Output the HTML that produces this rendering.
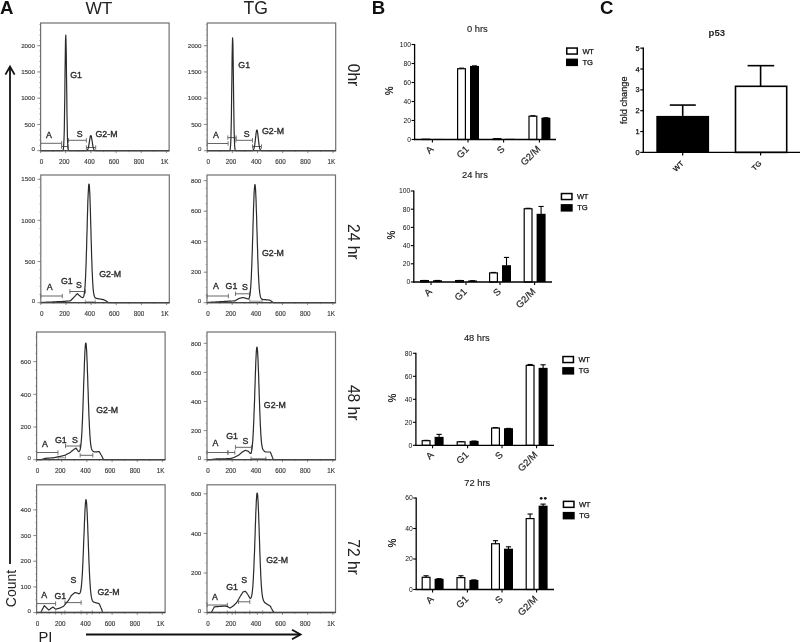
<!DOCTYPE html>
<html><head><meta charset="utf-8"><title>Figure</title>
<style>html,body{margin:0;padding:0;background:#fff;width:800px;height:642px;overflow:hidden}
body{position:relative;font-family:"Liberation Sans", sans-serif}
svg text{font-family:"Liberation Sans", sans-serif}</style></head>
<body>
<svg width="800" height="642" viewBox="0 0 800 642" style="position:absolute;left:0;top:0;will-change:transform" font-family='"Liberation Sans", sans-serif'>
<rect width="800" height="642" fill="#fff"/>
<text x="0.00" y="13.90" font-size="18.6" text-anchor="start" font-weight="bold" fill="#111" >A</text>
<text x="85.60" y="14.00" font-size="17.4" text-anchor="start" font-weight="normal" fill="#222" letter-spacing="-0.3">WT</text>
<text x="243.40" y="14.40" font-size="17.6" text-anchor="start" font-weight="normal" fill="#222" >TG</text>
<text x="371.70" y="13.70" font-size="18.6" text-anchor="start" font-weight="bold" fill="#111" >B</text>
<text x="599.90" y="13.90" font-size="18.6" text-anchor="start" font-weight="bold" fill="#111" >C</text>
<text x="348" y="75.0" font-size="15.6" text-anchor="middle" fill="#222" transform="rotate(90 348 75.0)" dy="0">0hr</text>
<text x="348" y="241.8" font-size="15.6" text-anchor="middle" fill="#222" transform="rotate(90 348 241.8)" dy="0">24 hr</text>
<text x="348" y="402.7" font-size="15.6" text-anchor="middle" fill="#222" transform="rotate(90 348 402.7)" dy="0">48 hr</text>
<text x="348" y="557.0" font-size="15.6" text-anchor="middle" fill="#222" transform="rotate(90 348 557.0)" dy="0">72 hr</text>
<path d="M10,564 L10,67" stroke="#111" stroke-width="1.8" fill="none"/>
<path d="M5.4,74.6 L10,66.5 L14.6,74.6" stroke="#111" stroke-width="1.8" fill="none" stroke-linejoin="miter"/>
<text x="15.6" y="588.5" font-size="14" text-anchor="middle" fill="#222" transform="rotate(-90 15.6 588.5)">Count</text>
<text x="38.50" y="642.20" font-size="14.8" text-anchor="start" font-weight="normal" fill="#222" >PI</text>
<path d="M86,634.5 L300,634.5" stroke="#111" stroke-width="1.8" fill="none"/>
<path d="M292,629.7 L300.6,634.5 L292,639.2" stroke="#111" stroke-width="1.8" fill="none"/>
<line x1="40.60" y1="150.70" x2="40.60" y2="153.10" stroke="#777" stroke-width="0.8" />
<text x="41.60" y="164.10" font-size="6.3" text-anchor="middle" font-weight="normal" fill="#3a3a3a" stroke="#3a3a3a" stroke-width="0.15">0</text>
<line x1="65.76" y1="150.70" x2="65.76" y2="153.10" stroke="#777" stroke-width="0.8" />
<text x="64.30" y="164.10" font-size="6.3" text-anchor="middle" font-weight="normal" fill="#3a3a3a" stroke="#3a3a3a" stroke-width="0.15">200</text>
<line x1="90.92" y1="150.70" x2="90.92" y2="153.10" stroke="#777" stroke-width="0.8" />
<text x="89.60" y="164.10" font-size="6.3" text-anchor="middle" font-weight="normal" fill="#3a3a3a" stroke="#3a3a3a" stroke-width="0.15">400</text>
<line x1="116.08" y1="150.70" x2="116.08" y2="153.10" stroke="#777" stroke-width="0.8" />
<text x="114.00" y="164.10" font-size="6.3" text-anchor="middle" font-weight="normal" fill="#3a3a3a" stroke="#3a3a3a" stroke-width="0.15">600</text>
<line x1="141.24" y1="150.70" x2="141.24" y2="153.10" stroke="#777" stroke-width="0.8" />
<text x="138.90" y="164.10" font-size="6.3" text-anchor="middle" font-weight="normal" fill="#3a3a3a" stroke="#3a3a3a" stroke-width="0.15">800</text>
<line x1="166.40" y1="150.70" x2="166.40" y2="153.10" stroke="#777" stroke-width="0.8" />
<text x="164.70" y="164.10" font-size="6.3" text-anchor="middle" font-weight="normal" fill="#3a3a3a" stroke="#3a3a3a" stroke-width="0.15">1K</text>
<line x1="53.18" y1="150.70" x2="53.18" y2="152.20" stroke="#999" stroke-width="0.7" />
<line x1="78.34" y1="150.70" x2="78.34" y2="152.20" stroke="#999" stroke-width="0.7" />
<line x1="103.50" y1="150.70" x2="103.50" y2="152.20" stroke="#999" stroke-width="0.7" />
<line x1="128.66" y1="150.70" x2="128.66" y2="152.20" stroke="#999" stroke-width="0.7" />
<line x1="153.82" y1="150.70" x2="153.82" y2="152.20" stroke="#999" stroke-width="0.7" />
<line x1="39.00" y1="150.70" x2="40.60" y2="150.70" stroke="#aaa" stroke-width="0.7" />
<line x1="39.00" y1="145.45" x2="40.60" y2="145.45" stroke="#aaa" stroke-width="0.7" />
<line x1="39.00" y1="140.20" x2="40.60" y2="140.20" stroke="#aaa" stroke-width="0.7" />
<line x1="39.00" y1="134.95" x2="40.60" y2="134.95" stroke="#aaa" stroke-width="0.7" />
<line x1="39.00" y1="129.70" x2="40.60" y2="129.70" stroke="#aaa" stroke-width="0.7" />
<line x1="39.00" y1="124.45" x2="40.60" y2="124.45" stroke="#aaa" stroke-width="0.7" />
<line x1="39.00" y1="119.20" x2="40.60" y2="119.20" stroke="#aaa" stroke-width="0.7" />
<line x1="39.00" y1="113.95" x2="40.60" y2="113.95" stroke="#aaa" stroke-width="0.7" />
<line x1="39.00" y1="108.70" x2="40.60" y2="108.70" stroke="#aaa" stroke-width="0.7" />
<line x1="39.00" y1="103.45" x2="40.60" y2="103.45" stroke="#aaa" stroke-width="0.7" />
<line x1="39.00" y1="98.20" x2="40.60" y2="98.20" stroke="#aaa" stroke-width="0.7" />
<line x1="39.00" y1="92.95" x2="40.60" y2="92.95" stroke="#aaa" stroke-width="0.7" />
<line x1="39.00" y1="87.70" x2="40.60" y2="87.70" stroke="#aaa" stroke-width="0.7" />
<line x1="39.00" y1="82.45" x2="40.60" y2="82.45" stroke="#aaa" stroke-width="0.7" />
<line x1="39.00" y1="77.20" x2="40.60" y2="77.20" stroke="#aaa" stroke-width="0.7" />
<line x1="39.00" y1="71.95" x2="40.60" y2="71.95" stroke="#aaa" stroke-width="0.7" />
<line x1="39.00" y1="66.70" x2="40.60" y2="66.70" stroke="#aaa" stroke-width="0.7" />
<line x1="39.00" y1="61.45" x2="40.60" y2="61.45" stroke="#aaa" stroke-width="0.7" />
<line x1="39.00" y1="56.20" x2="40.60" y2="56.20" stroke="#aaa" stroke-width="0.7" />
<line x1="39.00" y1="50.95" x2="40.60" y2="50.95" stroke="#aaa" stroke-width="0.7" />
<line x1="39.00" y1="45.70" x2="40.60" y2="45.70" stroke="#aaa" stroke-width="0.7" />
<line x1="39.00" y1="40.45" x2="40.60" y2="40.45" stroke="#aaa" stroke-width="0.7" />
<line x1="39.00" y1="35.20" x2="40.60" y2="35.20" stroke="#aaa" stroke-width="0.7" />
<line x1="39.00" y1="29.95" x2="40.60" y2="29.95" stroke="#aaa" stroke-width="0.7" />
<line x1="39.00" y1="24.70" x2="40.60" y2="24.70" stroke="#aaa" stroke-width="0.7" />
<line x1="37.20" y1="150.70" x2="40.60" y2="150.70" stroke="#777" stroke-width="0.8" />
<text x="34.90" y="151.00" font-size="6.2" text-anchor="end" font-weight="normal" fill="#3a3a3a" stroke="#3a3a3a" stroke-width="0.15">0</text>
<line x1="37.20" y1="124.45" x2="40.60" y2="124.45" stroke="#777" stroke-width="0.8" />
<text x="34.90" y="126.65" font-size="6.2" text-anchor="end" font-weight="normal" fill="#3a3a3a" stroke="#3a3a3a" stroke-width="0.15">500</text>
<line x1="37.20" y1="98.20" x2="40.60" y2="98.20" stroke="#777" stroke-width="0.8" />
<text x="34.90" y="100.40" font-size="6.2" text-anchor="end" font-weight="normal" fill="#3a3a3a" stroke="#3a3a3a" stroke-width="0.15">1000</text>
<line x1="37.20" y1="71.95" x2="40.60" y2="71.95" stroke="#777" stroke-width="0.8" />
<text x="34.90" y="74.15" font-size="6.2" text-anchor="end" font-weight="normal" fill="#3a3a3a" stroke="#3a3a3a" stroke-width="0.15">1500</text>
<line x1="37.20" y1="45.70" x2="40.60" y2="45.70" stroke="#777" stroke-width="0.8" />
<text x="34.90" y="47.90" font-size="6.2" text-anchor="end" font-weight="normal" fill="#3a3a3a" stroke="#3a3a3a" stroke-width="0.15">2000</text>
<line x1="40.60" y1="143.30" x2="61.61" y2="143.30" stroke="#666" stroke-width="1.0" />
<line x1="40.60" y1="141.10" x2="40.60" y2="145.50" stroke="#666" stroke-width="0.9" />
<line x1="61.61" y1="141.10" x2="61.61" y2="145.50" stroke="#666" stroke-width="0.9" />
<line x1="61.61" y1="146.50" x2="68.02" y2="146.50" stroke="#666" stroke-width="1.0" />
<line x1="61.61" y1="144.30" x2="61.61" y2="148.70" stroke="#666" stroke-width="0.9" />
<line x1="68.02" y1="144.30" x2="68.02" y2="148.70" stroke="#666" stroke-width="0.9" />
<line x1="68.53" y1="140.30" x2="86.39" y2="140.30" stroke="#666" stroke-width="1.0" />
<line x1="68.53" y1="138.10" x2="68.53" y2="142.50" stroke="#666" stroke-width="0.9" />
<line x1="86.39" y1="138.10" x2="86.39" y2="142.50" stroke="#666" stroke-width="0.9" />
<line x1="86.39" y1="147.50" x2="95.70" y2="147.50" stroke="#666" stroke-width="1.0" />
<line x1="86.39" y1="145.30" x2="86.39" y2="149.70" stroke="#666" stroke-width="0.9" />
<line x1="95.70" y1="145.30" x2="95.70" y2="149.70" stroke="#666" stroke-width="0.9" />
<path d="M40.6,150.7L40.9,150.7L41.1,150.7L41.4,150.7L41.6,150.7L41.9,150.7L42.1,150.7L42.4,150.7L42.6,150.7L42.9,150.7L43.1,150.7L43.4,150.7L43.6,150.7L43.9,150.7L44.1,150.7L44.4,150.7L44.6,150.7L44.9,150.7L45.1,150.7L45.4,150.7L45.6,150.7L45.9,150.7L46.1,150.7L46.4,150.7L46.6,150.7L46.9,150.7L47.1,150.7L47.4,150.7L47.6,150.7L47.9,150.7L48.1,150.7L48.4,150.7L48.7,150.7L48.9,150.7L49.2,150.7L49.4,150.7L49.7,150.7L49.9,150.7L50.2,150.7L50.4,150.7L50.7,150.7L50.9,150.7L51.2,150.7L51.4,150.7L51.7,150.7L51.9,150.7L52.2,150.7L52.4,150.7L52.7,150.7L52.9,150.7L53.2,150.7L53.4,150.7L53.7,150.7L53.9,150.7L54.2,150.7L54.4,150.7L54.7,150.7L54.9,150.7L55.2,150.7L55.4,150.7L55.7,150.7L55.9,150.7L56.2,150.7L56.5,150.7L56.7,150.7L57.0,150.7L57.2,150.7L57.5,150.7L57.7,150.7L58.0,150.7L58.2,150.7L58.5,150.7L58.7,150.7L59.0,150.7L59.2,150.7L59.5,150.7L59.7,150.7L60.0,150.7L60.2,150.7L60.5,150.7L60.7,150.7L61.0,150.7L61.2,150.7L61.5,150.7L61.7,150.7L62.0,150.7L62.2,150.7L62.5,150.7L62.7,150.6L63.0,150.3L63.2,149.7L63.5,148.2L63.7,145.1L64.0,139.3L64.3,129.7L64.5,115.3L64.8,96.5L65.0,75.3L65.3,55.1L65.5,40.5L65.8,35.2L66.0,40.5L66.3,55.1L66.5,75.3L66.8,96.5L67.0,115.3L67.3,129.7L67.5,139.3L67.8,145.1L68.0,148.2L68.3,149.7L68.5,150.3L68.8,150.6L69.0,150.7L69.3,150.7L69.5,150.7L69.8,150.7L70.0,150.7L70.3,150.7L70.5,150.7L70.8,150.7L71.0,150.7L71.3,150.7L71.5,150.7L71.8,150.7L72.0,150.7L72.3,150.7L72.6,150.7L72.8,150.7L73.1,150.7L73.3,150.7L73.6,150.7L73.8,150.7L74.1,150.7L74.3,150.7L74.6,150.7L74.8,150.7L75.1,150.7L75.3,150.7L75.6,150.7L75.8,150.7L76.1,150.7L76.3,150.7L76.6,150.7L76.8,150.7L77.1,150.7L77.3,150.7L77.6,150.7L77.8,150.7L78.1,150.7L78.3,150.7L78.6,150.7L78.8,150.7L79.1,150.7L79.3,150.7L79.6,150.7L79.8,150.7L80.1,150.7L80.4,150.7L80.6,150.7L80.9,150.7L81.1,150.7L81.4,150.7L81.6,150.7L81.9,150.7L82.1,150.7L82.4,150.7L82.6,150.7L82.9,150.7L83.1,150.7L83.4,150.7L83.6,150.7L83.9,150.7L84.1,150.7L84.4,150.7L84.6,150.7L84.9,150.7L85.1,150.7L85.4,150.7L85.6,150.7L85.9,150.7L86.1,150.6L86.4,150.6L86.6,150.5L86.9,150.4L87.1,150.2L87.4,150.0L87.6,149.5L87.9,149.0L88.2,148.2L88.4,147.3L88.7,146.1L88.9,144.7L89.2,143.1L89.4,141.5L89.7,139.8L89.9,138.3L90.2,137.0L90.4,136.0L90.7,135.5L90.9,135.5L91.2,136.0L91.4,137.0L91.7,138.3L91.9,139.8L92.2,141.5L92.4,143.1L92.7,144.7L92.9,146.1L93.2,147.3L93.4,148.2L93.7,149.0L93.9,149.5L94.2,150.0L94.4,150.2L94.7,150.4L94.9,150.5L95.2,150.6L95.4,150.6L95.7,150.7L96.0,150.7L96.2,150.7L96.5,150.7L96.7,150.7L97.0,150.7L97.2,150.7L97.5,150.7L97.7,150.7L98.0,150.7L98.2,150.7L98.5,150.7L98.7,150.7L99.0,150.7L99.2,150.7L99.5,150.7L99.7,150.7L100.0,150.7L100.2,150.7L100.5,150.7L100.7,150.7L101.0,150.7L101.2,150.7L101.5,150.7L101.7,150.7L102.0,150.7L102.2,150.7L102.5,150.7L102.7,150.7L103.0,150.7L103.2,150.7L103.5,150.7L103.8,150.7L104.0,150.7L104.3,150.7L104.5,150.7L104.8,150.7L105.0,150.7L105.3,150.7L105.5,150.7L105.8,150.7L106.0,150.7L106.3,150.7L106.5,150.7L106.8,150.7L107.0,150.7L107.3,150.7L107.5,150.7L107.8,150.7L108.0,150.7L108.3,150.7L108.5,150.7L108.8,150.7L109.0,150.7L109.3,150.7L109.5,150.7L109.8,150.7L110.0,150.7L110.3,150.7L110.5,150.7L110.8,150.7L111.0,150.7L111.3,150.7L111.6,150.7L111.8,150.7L112.1,150.7L112.3,150.7L112.6,150.7L112.8,150.7L113.1,150.7L113.3,150.7L113.6,150.7L113.8,150.7L114.1,150.7L114.3,150.7L114.6,150.7L114.8,150.7L115.1,150.7L115.3,150.7L115.6,150.7L115.8,150.7L116.1,150.7L116.3,150.7L116.6,150.7L116.8,150.7L117.1,150.7L117.3,150.7L117.6,150.7L117.8,150.7L118.1,150.7L118.3,150.7L118.6,150.7L118.8,150.7L119.1,150.7L119.4,150.7L119.6,150.7L119.9,150.7L120.1,150.7L120.4,150.7L120.6,150.7L120.9,150.7L121.1,150.7L121.4,150.7L121.6,150.7L121.9,150.7L122.1,150.7L122.4,150.7L122.6,150.7L122.9,150.7L123.1,150.7L123.4,150.7L123.6,150.7L123.9,150.7L124.1,150.7L124.4,150.7L124.6,150.7L124.9,150.7L125.1,150.7L125.4,150.7L125.6,150.7L125.9,150.7L126.1,150.7L126.4,150.7L126.6,150.7L126.9,150.7L127.2,150.7L127.4,150.7L127.7,150.7L127.9,150.7L128.2,150.7L128.4,150.7L128.7,150.7L128.9,150.7L129.2,150.7L129.4,150.7L129.7,150.7L129.9,150.7L130.2,150.7L130.4,150.7L130.7,150.7L130.9,150.7L131.2,150.7L131.4,150.7L131.7,150.7L131.9,150.7L132.2,150.7L132.4,150.7L132.7,150.7L132.9,150.7L133.2,150.7L133.4,150.7L133.7,150.7L133.9,150.7L134.2,150.7L134.4,150.7L134.7,150.7L134.9,150.7L135.2,150.7L135.5,150.7L135.7,150.7L136.0,150.7L136.2,150.7L136.5,150.7L136.7,150.7L137.0,150.7L137.2,150.7L137.5,150.7L137.7,150.7L138.0,150.7L138.2,150.7L138.5,150.7L138.7,150.7L139.0,150.7L139.2,150.7L139.5,150.7L139.7,150.7L140.0,150.7L140.2,150.7L140.5,150.7L140.7,150.7L141.0,150.7L141.2,150.7L141.5,150.7L141.7,150.7L142.0,150.7L142.2,150.7L142.5,150.7L142.7,150.7L143.0,150.7L143.3,150.7L143.5,150.7L143.8,150.7L144.0,150.7L144.3,150.7L144.5,150.7L144.8,150.7L145.0,150.7L145.3,150.7L145.5,150.7L145.8,150.7L146.0,150.7L146.3,150.7L146.5,150.7L146.8,150.7L147.0,150.7L147.3,150.7L147.5,150.7L147.8,150.7L148.0,150.7L148.3,150.7L148.5,150.7L148.8,150.7L149.0,150.7L149.3,150.7L149.5,150.7L149.8,150.7L150.0,150.7L150.3,150.7L150.5,150.7L150.8,150.7L151.1,150.7L151.3,150.7L151.6,150.7L151.8,150.7L152.1,150.7L152.3,150.7L152.6,150.7L152.8,150.7L153.1,150.7L153.3,150.7L153.6,150.7L153.8,150.7L154.1,150.7L154.3,150.7L154.6,150.7L154.8,150.7L155.1,150.7L155.3,150.7L155.6,150.7L155.8,150.7L156.1,150.7L156.3,150.7L156.6,150.7L156.8,150.7L157.1,150.7L157.3,150.7L157.6,150.7L157.8,150.7L158.1,150.7L158.3,150.7L158.6,150.7L158.9,150.7L159.1,150.7L159.4,150.7L159.6,150.7L159.9,150.7L160.1,150.7L160.4,150.7L160.6,150.7L160.9,150.7L161.1,150.7L161.4,150.7L161.6,150.7L161.9,150.7L162.1,150.7L162.4,150.7L162.6,150.7L162.9,150.7L163.1,150.7L163.4,150.7L163.6,150.7L163.9,150.7L164.1,150.7L164.4,150.7L164.6,150.7L164.9,150.7L165.1,150.7L165.4,150.7L165.6,150.7L165.9,150.7L166.1,150.7L166.4,150.7L166.7,150.7L166.9,150.7L167.2,150.7L167.4,150.7L167.7,150.7L167.9,150.7L168.2,150.7L168.4,150.7L168.7,150.7L168.9,150.7L169.2,150.7L169.4,150.7" fill="none" stroke="#2a2a2a" stroke-width="1.2" stroke-linejoin="round"/>
<rect x="40.60" y="23.00" width="128.5" height="127.7" fill="none" stroke="#707070" stroke-width="1.2"/>
<line x1="40.60" y1="150.70" x2="169.10" y2="150.70" stroke="#444" stroke-width="1.3" />
<text x="46.00" y="137.60" font-size="8.8" text-anchor="start" font-weight="normal" fill="#2a2a2a" stroke="#2a2a2a" stroke-width="0.35">A</text>
<text x="70.20" y="78.10" font-size="8.8" text-anchor="start" font-weight="normal" fill="#2a2a2a" stroke="#2a2a2a" stroke-width="0.35">G1</text>
<text x="76.80" y="136.90" font-size="8.8" text-anchor="start" font-weight="normal" fill="#2a2a2a" stroke="#2a2a2a" stroke-width="0.35">S</text>
<text x="95.50" y="137.40" font-size="8.8" text-anchor="start" font-weight="normal" fill="#2a2a2a" stroke="#2a2a2a" stroke-width="0.35">G2-M</text>
<line x1="207.20" y1="150.70" x2="207.20" y2="153.10" stroke="#777" stroke-width="0.8" />
<text x="208.20" y="164.10" font-size="6.3" text-anchor="middle" font-weight="normal" fill="#3a3a3a" stroke="#3a3a3a" stroke-width="0.15">0</text>
<line x1="232.36" y1="150.70" x2="232.36" y2="153.10" stroke="#777" stroke-width="0.8" />
<text x="230.90" y="164.10" font-size="6.3" text-anchor="middle" font-weight="normal" fill="#3a3a3a" stroke="#3a3a3a" stroke-width="0.15">200</text>
<line x1="257.52" y1="150.70" x2="257.52" y2="153.10" stroke="#777" stroke-width="0.8" />
<text x="256.20" y="164.10" font-size="6.3" text-anchor="middle" font-weight="normal" fill="#3a3a3a" stroke="#3a3a3a" stroke-width="0.15">400</text>
<line x1="282.68" y1="150.70" x2="282.68" y2="153.10" stroke="#777" stroke-width="0.8" />
<text x="280.60" y="164.10" font-size="6.3" text-anchor="middle" font-weight="normal" fill="#3a3a3a" stroke="#3a3a3a" stroke-width="0.15">600</text>
<line x1="307.84" y1="150.70" x2="307.84" y2="153.10" stroke="#777" stroke-width="0.8" />
<text x="305.50" y="164.10" font-size="6.3" text-anchor="middle" font-weight="normal" fill="#3a3a3a" stroke="#3a3a3a" stroke-width="0.15">800</text>
<line x1="333.00" y1="150.70" x2="333.00" y2="153.10" stroke="#777" stroke-width="0.8" />
<text x="331.30" y="164.10" font-size="6.3" text-anchor="middle" font-weight="normal" fill="#3a3a3a" stroke="#3a3a3a" stroke-width="0.15">1K</text>
<line x1="219.78" y1="150.70" x2="219.78" y2="152.20" stroke="#999" stroke-width="0.7" />
<line x1="244.94" y1="150.70" x2="244.94" y2="152.20" stroke="#999" stroke-width="0.7" />
<line x1="270.10" y1="150.70" x2="270.10" y2="152.20" stroke="#999" stroke-width="0.7" />
<line x1="295.26" y1="150.70" x2="295.26" y2="152.20" stroke="#999" stroke-width="0.7" />
<line x1="320.42" y1="150.70" x2="320.42" y2="152.20" stroke="#999" stroke-width="0.7" />
<line x1="205.60" y1="150.70" x2="207.20" y2="150.70" stroke="#aaa" stroke-width="0.7" />
<line x1="205.60" y1="145.45" x2="207.20" y2="145.45" stroke="#aaa" stroke-width="0.7" />
<line x1="205.60" y1="140.20" x2="207.20" y2="140.20" stroke="#aaa" stroke-width="0.7" />
<line x1="205.60" y1="134.95" x2="207.20" y2="134.95" stroke="#aaa" stroke-width="0.7" />
<line x1="205.60" y1="129.70" x2="207.20" y2="129.70" stroke="#aaa" stroke-width="0.7" />
<line x1="205.60" y1="124.45" x2="207.20" y2="124.45" stroke="#aaa" stroke-width="0.7" />
<line x1="205.60" y1="119.20" x2="207.20" y2="119.20" stroke="#aaa" stroke-width="0.7" />
<line x1="205.60" y1="113.95" x2="207.20" y2="113.95" stroke="#aaa" stroke-width="0.7" />
<line x1="205.60" y1="108.70" x2="207.20" y2="108.70" stroke="#aaa" stroke-width="0.7" />
<line x1="205.60" y1="103.45" x2="207.20" y2="103.45" stroke="#aaa" stroke-width="0.7" />
<line x1="205.60" y1="98.20" x2="207.20" y2="98.20" stroke="#aaa" stroke-width="0.7" />
<line x1="205.60" y1="92.95" x2="207.20" y2="92.95" stroke="#aaa" stroke-width="0.7" />
<line x1="205.60" y1="87.70" x2="207.20" y2="87.70" stroke="#aaa" stroke-width="0.7" />
<line x1="205.60" y1="82.45" x2="207.20" y2="82.45" stroke="#aaa" stroke-width="0.7" />
<line x1="205.60" y1="77.20" x2="207.20" y2="77.20" stroke="#aaa" stroke-width="0.7" />
<line x1="205.60" y1="71.95" x2="207.20" y2="71.95" stroke="#aaa" stroke-width="0.7" />
<line x1="205.60" y1="66.70" x2="207.20" y2="66.70" stroke="#aaa" stroke-width="0.7" />
<line x1="205.60" y1="61.45" x2="207.20" y2="61.45" stroke="#aaa" stroke-width="0.7" />
<line x1="205.60" y1="56.20" x2="207.20" y2="56.20" stroke="#aaa" stroke-width="0.7" />
<line x1="205.60" y1="50.95" x2="207.20" y2="50.95" stroke="#aaa" stroke-width="0.7" />
<line x1="205.60" y1="45.70" x2="207.20" y2="45.70" stroke="#aaa" stroke-width="0.7" />
<line x1="205.60" y1="40.45" x2="207.20" y2="40.45" stroke="#aaa" stroke-width="0.7" />
<line x1="205.60" y1="35.20" x2="207.20" y2="35.20" stroke="#aaa" stroke-width="0.7" />
<line x1="205.60" y1="29.95" x2="207.20" y2="29.95" stroke="#aaa" stroke-width="0.7" />
<line x1="205.60" y1="24.70" x2="207.20" y2="24.70" stroke="#aaa" stroke-width="0.7" />
<line x1="203.80" y1="150.70" x2="207.20" y2="150.70" stroke="#777" stroke-width="0.8" />
<text x="201.50" y="151.00" font-size="6.2" text-anchor="end" font-weight="normal" fill="#3a3a3a" stroke="#3a3a3a" stroke-width="0.15">0</text>
<line x1="203.80" y1="124.45" x2="207.20" y2="124.45" stroke="#777" stroke-width="0.8" />
<text x="201.50" y="126.65" font-size="6.2" text-anchor="end" font-weight="normal" fill="#3a3a3a" stroke="#3a3a3a" stroke-width="0.15">500</text>
<line x1="203.80" y1="98.20" x2="207.20" y2="98.20" stroke="#777" stroke-width="0.8" />
<text x="201.50" y="100.40" font-size="6.2" text-anchor="end" font-weight="normal" fill="#3a3a3a" stroke="#3a3a3a" stroke-width="0.15">1000</text>
<line x1="203.80" y1="71.95" x2="207.20" y2="71.95" stroke="#777" stroke-width="0.8" />
<text x="201.50" y="74.15" font-size="6.2" text-anchor="end" font-weight="normal" fill="#3a3a3a" stroke="#3a3a3a" stroke-width="0.15">1500</text>
<line x1="203.80" y1="45.70" x2="207.20" y2="45.70" stroke="#777" stroke-width="0.8" />
<text x="201.50" y="47.90" font-size="6.2" text-anchor="end" font-weight="normal" fill="#3a3a3a" stroke="#3a3a3a" stroke-width="0.15">2000</text>
<line x1="207.20" y1="143.50" x2="228.08" y2="143.50" stroke="#666" stroke-width="1.0" />
<line x1="207.20" y1="141.30" x2="207.20" y2="145.70" stroke="#666" stroke-width="0.9" />
<line x1="228.08" y1="141.30" x2="228.08" y2="145.70" stroke="#666" stroke-width="0.9" />
<line x1="227.83" y1="137.60" x2="236.13" y2="137.60" stroke="#666" stroke-width="1.0" />
<line x1="227.83" y1="135.40" x2="227.83" y2="139.80" stroke="#666" stroke-width="0.9" />
<line x1="236.13" y1="135.40" x2="236.13" y2="139.80" stroke="#666" stroke-width="0.9" />
<line x1="235.88" y1="140.30" x2="252.49" y2="140.30" stroke="#666" stroke-width="1.0" />
<line x1="235.88" y1="138.10" x2="235.88" y2="142.50" stroke="#666" stroke-width="0.9" />
<line x1="252.49" y1="138.10" x2="252.49" y2="142.50" stroke="#666" stroke-width="0.9" />
<line x1="252.49" y1="146.50" x2="261.55" y2="146.50" stroke="#666" stroke-width="1.0" />
<line x1="252.49" y1="144.30" x2="252.49" y2="148.70" stroke="#666" stroke-width="0.9" />
<line x1="261.55" y1="144.30" x2="261.55" y2="148.70" stroke="#666" stroke-width="0.9" />
<path d="M207.2,150.7L207.5,150.7L207.7,150.7L208.0,150.7L208.2,150.7L208.5,150.7L208.7,150.7L209.0,150.7L209.2,150.7L209.5,150.7L209.7,150.7L210.0,150.7L210.2,150.7L210.5,150.7L210.7,150.7L211.0,150.7L211.2,150.7L211.5,150.7L211.7,150.7L212.0,150.7L212.2,150.7L212.5,150.7L212.7,150.7L213.0,150.7L213.2,150.7L213.5,150.7L213.7,150.7L214.0,150.7L214.2,150.7L214.5,150.7L214.7,150.7L215.0,150.7L215.3,150.7L215.5,150.7L215.8,150.7L216.0,150.7L216.3,150.7L216.5,150.7L216.8,150.7L217.0,150.7L217.3,150.7L217.5,150.7L217.8,150.7L218.0,150.7L218.3,150.7L218.5,150.7L218.8,150.7L219.0,150.7L219.3,150.7L219.5,150.7L219.8,150.7L220.0,150.7L220.3,150.7L220.5,150.7L220.8,150.7L221.0,150.7L221.3,150.7L221.5,150.7L221.8,150.7L222.0,150.7L222.3,150.7L222.5,150.7L222.8,150.7L223.1,150.7L223.3,150.7L223.6,150.7L223.8,150.7L224.1,150.7L224.3,150.7L224.6,150.7L224.8,150.7L225.1,150.7L225.3,150.7L225.6,150.7L225.8,150.7L226.1,150.7L226.3,150.7L226.6,150.7L226.8,150.7L227.1,150.7L227.3,150.7L227.6,150.7L227.8,150.7L228.1,150.7L228.3,150.7L228.6,150.7L228.8,150.7L229.1,150.7L229.3,150.7L229.6,150.6L229.8,150.3L230.1,149.7L230.3,148.3L230.6,145.2L230.9,139.6L231.1,130.2L231.4,116.1L231.6,97.8L231.9,77.0L232.1,57.3L232.4,43.0L232.6,37.8L232.9,43.0L233.1,57.3L233.4,77.0L233.6,97.8L233.9,116.1L234.1,130.2L234.4,139.6L234.6,145.2L234.9,148.3L235.1,149.7L235.4,150.3L235.6,150.6L235.9,150.7L236.1,150.7L236.4,150.7L236.6,150.7L236.9,150.7L237.1,150.7L237.4,150.7L237.6,150.7L237.9,150.7L238.1,150.7L238.4,150.7L238.6,150.7L238.9,150.7L239.2,150.7L239.4,150.7L239.7,150.7L239.9,150.7L240.2,150.7L240.4,150.7L240.7,150.7L240.9,150.7L241.2,150.7L241.4,150.7L241.7,150.7L241.9,150.7L242.2,150.7L242.4,150.7L242.7,150.7L242.9,150.7L243.2,150.7L243.4,150.7L243.7,150.7L243.9,150.7L244.2,150.7L244.4,150.7L244.7,150.7L244.9,150.7L245.2,150.7L245.4,150.7L245.7,150.7L245.9,150.7L246.2,150.7L246.4,150.7L246.7,150.7L247.0,150.7L247.2,150.7L247.5,150.7L247.7,150.7L248.0,150.7L248.2,150.7L248.5,150.7L248.7,150.7L249.0,150.7L249.2,150.7L249.5,150.7L249.7,150.7L250.0,150.7L250.2,150.7L250.5,150.7L250.7,150.7L251.0,150.7L251.2,150.7L251.5,150.7L251.7,150.7L252.0,150.7L252.2,150.6L252.5,150.6L252.7,150.5L253.0,150.3L253.2,150.1L253.5,149.7L253.7,149.1L254.0,148.4L254.2,147.3L254.5,146.0L254.8,144.4L255.0,142.5L255.3,140.4L255.5,138.1L255.8,135.9L256.0,133.8L256.3,132.0L256.5,130.7L256.8,130.0L257.0,130.0L257.3,130.7L257.5,132.0L257.8,133.8L258.0,135.9L258.3,138.1L258.5,140.4L258.8,142.5L259.0,144.4L259.3,146.0L259.5,147.3L259.8,148.4L260.0,149.1L260.3,149.7L260.5,150.1L260.8,150.3L261.0,150.5L261.3,150.6L261.5,150.6L261.8,150.7L262.0,150.7L262.3,150.7L262.6,150.7L262.8,150.7L263.1,150.7L263.3,150.7L263.6,150.7L263.8,150.7L264.1,150.7L264.3,150.7L264.6,150.7L264.8,150.7L265.1,150.7L265.3,150.7L265.6,150.7L265.8,150.7L266.1,150.7L266.3,150.7L266.6,150.7L266.8,150.7L267.1,150.7L267.3,150.7L267.6,150.7L267.8,150.7L268.1,150.7L268.3,150.7L268.6,150.7L268.8,150.7L269.1,150.7L269.3,150.7L269.6,150.7L269.8,150.7L270.1,150.7L270.4,150.7L270.6,150.7L270.9,150.7L271.1,150.7L271.4,150.7L271.6,150.7L271.9,150.7L272.1,150.7L272.4,150.7L272.6,150.7L272.9,150.7L273.1,150.7L273.4,150.7L273.6,150.7L273.9,150.7L274.1,150.7L274.4,150.7L274.6,150.7L274.9,150.7L275.1,150.7L275.4,150.7L275.6,150.7L275.9,150.7L276.1,150.7L276.4,150.7L276.6,150.7L276.9,150.7L277.1,150.7L277.4,150.7L277.6,150.7L277.9,150.7L278.2,150.7L278.4,150.7L278.7,150.7L278.9,150.7L279.2,150.7L279.4,150.7L279.7,150.7L279.9,150.7L280.2,150.7L280.4,150.7L280.7,150.7L280.9,150.7L281.2,150.7L281.4,150.7L281.7,150.7L281.9,150.7L282.2,150.7L282.4,150.7L282.7,150.7L282.9,150.7L283.2,150.7L283.4,150.7L283.7,150.7L283.9,150.7L284.2,150.7L284.4,150.7L284.7,150.7L284.9,150.7L285.2,150.7L285.4,150.7L285.7,150.7L286.0,150.7L286.2,150.7L286.5,150.7L286.7,150.7L287.0,150.7L287.2,150.7L287.5,150.7L287.7,150.7L288.0,150.7L288.2,150.7L288.5,150.7L288.7,150.7L289.0,150.7L289.2,150.7L289.5,150.7L289.7,150.7L290.0,150.7L290.2,150.7L290.5,150.7L290.7,150.7L291.0,150.7L291.2,150.7L291.5,150.7L291.7,150.7L292.0,150.7L292.2,150.7L292.5,150.7L292.7,150.7L293.0,150.7L293.2,150.7L293.5,150.7L293.8,150.7L294.0,150.7L294.3,150.7L294.5,150.7L294.8,150.7L295.0,150.7L295.3,150.7L295.5,150.7L295.8,150.7L296.0,150.7L296.3,150.7L296.5,150.7L296.8,150.7L297.0,150.7L297.3,150.7L297.5,150.7L297.8,150.7L298.0,150.7L298.3,150.7L298.5,150.7L298.8,150.7L299.0,150.7L299.3,150.7L299.5,150.7L299.8,150.7L300.0,150.7L300.3,150.7L300.5,150.7L300.8,150.7L301.0,150.7L301.3,150.7L301.5,150.7L301.8,150.7L302.1,150.7L302.3,150.7L302.6,150.7L302.8,150.7L303.1,150.7L303.3,150.7L303.6,150.7L303.8,150.7L304.1,150.7L304.3,150.7L304.6,150.7L304.8,150.7L305.1,150.7L305.3,150.7L305.6,150.7L305.8,150.7L306.1,150.7L306.3,150.7L306.6,150.7L306.8,150.7L307.1,150.7L307.3,150.7L307.6,150.7L307.8,150.7L308.1,150.7L308.3,150.7L308.6,150.7L308.8,150.7L309.1,150.7L309.3,150.7L309.6,150.7L309.9,150.7L310.1,150.7L310.4,150.7L310.6,150.7L310.9,150.7L311.1,150.7L311.4,150.7L311.6,150.7L311.9,150.7L312.1,150.7L312.4,150.7L312.6,150.7L312.9,150.7L313.1,150.7L313.4,150.7L313.6,150.7L313.9,150.7L314.1,150.7L314.4,150.7L314.6,150.7L314.9,150.7L315.1,150.7L315.4,150.7L315.6,150.7L315.9,150.7L316.1,150.7L316.4,150.7L316.6,150.7L316.9,150.7L317.1,150.7L317.4,150.7L317.7,150.7L317.9,150.7L318.2,150.7L318.4,150.7L318.7,150.7L318.9,150.7L319.2,150.7L319.4,150.7L319.7,150.7L319.9,150.7L320.2,150.7L320.4,150.7L320.7,150.7L320.9,150.7L321.2,150.7L321.4,150.7L321.7,150.7L321.9,150.7L322.2,150.7L322.4,150.7L322.7,150.7L322.9,150.7L323.2,150.7L323.4,150.7L323.7,150.7L323.9,150.7L324.2,150.7L324.4,150.7L324.7,150.7L324.9,150.7L325.2,150.7L325.5,150.7L325.7,150.7L326.0,150.7L326.2,150.7L326.5,150.7L326.7,150.7L327.0,150.7L327.2,150.7L327.5,150.7L327.7,150.7L328.0,150.7L328.2,150.7L328.5,150.7L328.7,150.7L329.0,150.7L329.2,150.7L329.5,150.7L329.7,150.7L330.0,150.7L330.2,150.7L330.5,150.7L330.7,150.7L331.0,150.7L331.2,150.7L331.5,150.7L331.7,150.7L332.0,150.7L332.2,150.7L332.5,150.7L332.7,150.7L333.0,150.7L333.3,150.7L333.5,150.7L333.8,150.7L334.0,150.7L334.3,150.7L334.5,150.7L334.8,150.7L335.0,150.7L335.3,150.7L335.5,150.7L335.8,150.7L336.0,150.7" fill="none" stroke="#2a2a2a" stroke-width="1.2" stroke-linejoin="round"/>
<rect x="207.20" y="23.00" width="128.5" height="127.7" fill="none" stroke="#707070" stroke-width="1.2"/>
<line x1="207.20" y1="150.70" x2="335.70" y2="150.70" stroke="#444" stroke-width="1.3" />
<text x="213.00" y="137.60" font-size="8.8" text-anchor="start" font-weight="normal" fill="#2a2a2a" stroke="#2a2a2a" stroke-width="0.35">A</text>
<text x="238.30" y="67.50" font-size="8.8" text-anchor="start" font-weight="normal" fill="#2a2a2a" stroke="#2a2a2a" stroke-width="0.35">G1</text>
<text x="243.80" y="137.00" font-size="8.8" text-anchor="start" font-weight="normal" fill="#2a2a2a" stroke="#2a2a2a" stroke-width="0.35">S</text>
<text x="262.00" y="133.80" font-size="8.8" text-anchor="start" font-weight="normal" fill="#2a2a2a" stroke="#2a2a2a" stroke-width="0.35">G2-M</text>
<line x1="40.80" y1="302.70" x2="40.80" y2="305.10" stroke="#777" stroke-width="0.8" />
<text x="41.80" y="316.10" font-size="6.3" text-anchor="middle" font-weight="normal" fill="#3a3a3a" stroke="#3a3a3a" stroke-width="0.15">0</text>
<line x1="65.96" y1="302.70" x2="65.96" y2="305.10" stroke="#777" stroke-width="0.8" />
<text x="64.50" y="316.10" font-size="6.3" text-anchor="middle" font-weight="normal" fill="#3a3a3a" stroke="#3a3a3a" stroke-width="0.15">200</text>
<line x1="91.12" y1="302.70" x2="91.12" y2="305.10" stroke="#777" stroke-width="0.8" />
<text x="89.80" y="316.10" font-size="6.3" text-anchor="middle" font-weight="normal" fill="#3a3a3a" stroke="#3a3a3a" stroke-width="0.15">400</text>
<line x1="116.28" y1="302.70" x2="116.28" y2="305.10" stroke="#777" stroke-width="0.8" />
<text x="114.20" y="316.10" font-size="6.3" text-anchor="middle" font-weight="normal" fill="#3a3a3a" stroke="#3a3a3a" stroke-width="0.15">600</text>
<line x1="141.44" y1="302.70" x2="141.44" y2="305.10" stroke="#777" stroke-width="0.8" />
<text x="139.10" y="316.10" font-size="6.3" text-anchor="middle" font-weight="normal" fill="#3a3a3a" stroke="#3a3a3a" stroke-width="0.15">800</text>
<line x1="166.60" y1="302.70" x2="166.60" y2="305.10" stroke="#777" stroke-width="0.8" />
<text x="164.90" y="316.10" font-size="6.3" text-anchor="middle" font-weight="normal" fill="#3a3a3a" stroke="#3a3a3a" stroke-width="0.15">1K</text>
<line x1="53.38" y1="302.70" x2="53.38" y2="304.20" stroke="#999" stroke-width="0.7" />
<line x1="78.54" y1="302.70" x2="78.54" y2="304.20" stroke="#999" stroke-width="0.7" />
<line x1="103.70" y1="302.70" x2="103.70" y2="304.20" stroke="#999" stroke-width="0.7" />
<line x1="128.86" y1="302.70" x2="128.86" y2="304.20" stroke="#999" stroke-width="0.7" />
<line x1="154.02" y1="302.70" x2="154.02" y2="304.20" stroke="#999" stroke-width="0.7" />
<line x1="39.20" y1="302.70" x2="40.80" y2="302.70" stroke="#aaa" stroke-width="0.7" />
<line x1="39.20" y1="294.47" x2="40.80" y2="294.47" stroke="#aaa" stroke-width="0.7" />
<line x1="39.20" y1="286.24" x2="40.80" y2="286.24" stroke="#aaa" stroke-width="0.7" />
<line x1="39.20" y1="278.01" x2="40.80" y2="278.01" stroke="#aaa" stroke-width="0.7" />
<line x1="39.20" y1="269.78" x2="40.80" y2="269.78" stroke="#aaa" stroke-width="0.7" />
<line x1="39.20" y1="261.55" x2="40.80" y2="261.55" stroke="#aaa" stroke-width="0.7" />
<line x1="39.20" y1="253.32" x2="40.80" y2="253.32" stroke="#aaa" stroke-width="0.7" />
<line x1="39.20" y1="245.09" x2="40.80" y2="245.09" stroke="#aaa" stroke-width="0.7" />
<line x1="39.20" y1="236.86" x2="40.80" y2="236.86" stroke="#aaa" stroke-width="0.7" />
<line x1="39.20" y1="228.63" x2="40.80" y2="228.63" stroke="#aaa" stroke-width="0.7" />
<line x1="39.20" y1="220.40" x2="40.80" y2="220.40" stroke="#aaa" stroke-width="0.7" />
<line x1="39.20" y1="212.17" x2="40.80" y2="212.17" stroke="#aaa" stroke-width="0.7" />
<line x1="39.20" y1="203.94" x2="40.80" y2="203.94" stroke="#aaa" stroke-width="0.7" />
<line x1="39.20" y1="195.71" x2="40.80" y2="195.71" stroke="#aaa" stroke-width="0.7" />
<line x1="39.20" y1="187.48" x2="40.80" y2="187.48" stroke="#aaa" stroke-width="0.7" />
<line x1="39.20" y1="179.25" x2="40.80" y2="179.25" stroke="#aaa" stroke-width="0.7" />
<line x1="37.40" y1="302.70" x2="40.80" y2="302.70" stroke="#777" stroke-width="0.8" />
<text x="35.10" y="303.00" font-size="6.2" text-anchor="end" font-weight="normal" fill="#3a3a3a" stroke="#3a3a3a" stroke-width="0.15">0</text>
<line x1="37.40" y1="261.55" x2="40.80" y2="261.55" stroke="#777" stroke-width="0.8" />
<text x="35.10" y="263.75" font-size="6.2" text-anchor="end" font-weight="normal" fill="#3a3a3a" stroke="#3a3a3a" stroke-width="0.15">500</text>
<line x1="37.40" y1="220.40" x2="40.80" y2="220.40" stroke="#777" stroke-width="0.8" />
<text x="35.10" y="222.60" font-size="6.2" text-anchor="end" font-weight="normal" fill="#3a3a3a" stroke="#3a3a3a" stroke-width="0.15">1000</text>
<line x1="37.40" y1="179.25" x2="40.80" y2="179.25" stroke="#777" stroke-width="0.8" />
<text x="35.10" y="181.45" font-size="6.2" text-anchor="end" font-weight="normal" fill="#3a3a3a" stroke="#3a3a3a" stroke-width="0.15">1500</text>
<line x1="40.80" y1="296.00" x2="62.31" y2="296.00" stroke="#666" stroke-width="1.0" />
<line x1="40.80" y1="293.80" x2="40.80" y2="298.20" stroke="#666" stroke-width="0.9" />
<line x1="62.31" y1="293.80" x2="62.31" y2="298.20" stroke="#666" stroke-width="0.9" />
<line x1="69.86" y1="291.50" x2="85.33" y2="291.50" stroke="#666" stroke-width="1.0" />
<line x1="69.86" y1="289.30" x2="69.86" y2="293.70" stroke="#666" stroke-width="0.9" />
<line x1="85.33" y1="289.30" x2="85.33" y2="293.70" stroke="#666" stroke-width="0.9" />
<line x1="85.33" y1="301.80" x2="95.27" y2="301.80" stroke="#999" stroke-width="1.0" />
<line x1="85.33" y1="299.60" x2="85.33" y2="304.00" stroke="#999" stroke-width="0.9" />
<line x1="95.27" y1="299.60" x2="95.27" y2="304.00" stroke="#999" stroke-width="0.9" />
<path d="M40.8,302.7L41.1,302.7L41.3,302.6L41.6,302.6L41.8,302.5L42.1,302.5L42.3,302.4L42.6,302.4L42.8,302.4L43.1,302.4L43.3,302.4L43.6,302.4L43.8,302.4L44.1,302.4L44.3,302.3L44.6,302.3L44.8,302.3L45.1,302.3L45.3,302.3L45.6,302.3L45.8,302.3L46.1,302.3L46.3,302.2L46.6,302.2L46.8,302.2L47.1,302.2L47.3,302.2L47.6,302.2L47.8,302.2L48.1,302.2L48.3,302.1L48.6,302.1L48.9,302.1L49.1,302.1L49.4,302.1L49.6,302.1L49.9,302.1L50.1,302.1L50.4,302.0L50.6,302.0L50.9,302.0L51.1,302.0L51.4,302.0L51.6,302.0L51.9,302.0L52.1,302.0L52.4,302.0L52.6,301.9L52.9,301.9L53.1,301.9L53.4,301.9L53.6,301.9L53.9,301.9L54.1,301.9L54.4,301.9L54.6,301.8L54.9,301.8L55.1,301.8L55.4,301.8L55.6,301.8L55.9,301.8L56.1,301.8L56.4,301.8L56.7,301.7L56.9,301.7L57.2,301.7L57.4,301.7L57.7,301.7L57.9,301.7L58.2,301.7L58.4,301.7L58.7,301.6L58.9,301.6L59.2,301.6L59.4,301.6L59.7,301.6L59.9,301.6L60.2,301.6L60.4,301.6L60.7,301.5L60.9,301.5L61.2,301.5L61.4,301.5L61.7,301.5L61.9,301.5L62.2,301.5L62.4,301.5L62.7,301.4L62.9,301.4L63.2,301.4L63.4,301.4L63.7,301.4L63.9,301.3L64.2,301.3L64.5,301.3L64.7,301.3L65.0,301.3L65.2,301.3L65.5,301.2L65.7,301.2L66.0,301.2L66.2,301.2L66.5,301.2L66.7,301.2L67.0,301.1L67.2,301.1L67.5,301.1L67.7,301.1L68.0,301.1L68.2,301.0L68.5,301.0L68.7,301.0L69.0,301.0L69.2,301.0L69.5,301.0L69.7,300.9L70.0,300.9L70.2,300.9L70.5,300.8L70.7,300.5L71.0,300.3L71.2,300.0L71.5,299.8L71.7,299.5L72.0,299.3L72.2,299.0L72.5,298.8L72.8,298.5L73.0,298.3L73.3,298.0L73.5,297.8L73.8,297.5L74.0,297.2L74.3,296.9L74.5,296.7L74.8,296.4L75.0,296.1L75.3,295.8L75.5,295.6L75.8,295.3L76.0,295.0L76.3,294.7L76.5,294.5L76.8,294.2L77.0,293.9L77.3,293.6L77.5,293.9L77.8,294.1L78.0,294.3L78.3,294.5L78.5,294.7L78.8,295.0L79.0,295.2L79.3,295.4L79.5,295.6L79.8,295.8L80.0,296.1L80.3,296.3L80.6,296.5L80.8,296.7L81.1,296.9L81.3,297.1L81.6,297.2L81.8,297.4L82.1,297.5L82.3,297.6L82.6,297.6L82.8,297.6L83.1,297.4L83.3,297.2L83.6,296.7L83.8,296.1L84.1,295.0L84.3,293.6L84.6,291.7L84.8,289.1L85.1,285.7L85.3,281.6L85.6,276.5L85.8,270.6L86.1,263.7L86.3,256.0L86.6,247.6L86.8,238.6L87.1,229.3L87.3,220.0L87.6,211.0L87.8,202.8L88.1,195.7L88.4,190.0L88.6,186.1L88.9,184.0L89.1,184.0L89.4,186.0L89.6,189.9L89.9,195.5L90.1,202.6L90.4,210.7L90.6,219.6L90.9,228.9L91.1,238.1L91.4,247.1L91.6,255.4L91.9,263.1L92.1,269.9L92.4,275.8L92.6,280.8L92.9,284.9L93.1,288.2L93.4,290.9L93.6,292.9L93.9,294.4L94.1,295.5L94.4,296.4L94.6,296.9L94.9,297.3L95.1,297.7L95.4,297.9L95.6,298.1L95.9,298.2L96.2,298.3L96.4,298.4L96.7,298.4L96.9,298.5L97.2,298.5L97.4,298.6L97.7,298.6L97.9,298.7L98.2,298.7L98.4,298.8L98.7,298.8L98.9,298.8L99.2,298.9L99.4,298.9L99.7,299.0L99.9,299.0L100.2,299.0L100.4,299.1L100.7,299.1L100.9,299.2L101.2,299.2L101.4,299.3L101.7,299.3L101.9,299.4L102.2,299.4L102.4,299.5L102.7,299.5L102.9,299.6L103.2,299.6L103.4,299.7L103.7,299.7L104.0,299.9L104.2,300.0L104.5,300.1L104.7,300.3L105.0,300.4L105.2,300.5L105.5,300.7L105.7,300.8L106.0,300.9L106.2,301.1L106.5,301.3L106.7,301.4L107.0,301.6L107.2,301.8L107.5,302.0L107.7,302.2L108.0,302.4L108.2,302.5L108.5,302.6L108.7,302.6L109.0,302.6L109.2,302.6L109.5,302.6L109.7,302.6L110.0,302.6L110.2,302.6L110.5,302.7L110.7,302.7L111.0,302.7L111.2,302.7L111.5,302.7L111.8,302.7L112.0,302.7L112.3,302.7L112.5,302.7L112.8,302.7L113.0,302.7L113.3,302.7L113.5,302.7L113.8,302.7L114.0,302.7L114.3,302.7L114.5,302.7L114.8,302.7L115.0,302.7L115.3,302.7L115.5,302.7L115.8,302.7L116.0,302.7L116.3,302.7L116.5,302.7L116.8,302.7L117.0,302.7L117.3,302.7L117.5,302.7L117.8,302.7L118.0,302.7L118.3,302.7L118.5,302.7L118.8,302.7L119.0,302.7L119.3,302.7L119.6,302.7L119.8,302.7L120.1,302.7L120.3,302.7L120.6,302.7L120.8,302.7L121.1,302.7L121.3,302.7L121.6,302.7L121.8,302.7L122.1,302.7L122.3,302.7L122.6,302.7L122.8,302.7L123.1,302.7L123.3,302.7L123.6,302.7L123.8,302.7L124.1,302.7L124.3,302.7L124.6,302.7L124.8,302.7L125.1,302.7L125.3,302.7L125.6,302.7L125.8,302.7L126.1,302.7L126.3,302.7L126.6,302.7L126.8,302.7L127.1,302.7L127.4,302.7L127.6,302.7L127.9,302.7L128.1,302.7L128.4,302.7L128.6,302.7L128.9,302.7L129.1,302.7L129.4,302.7L129.6,302.7L129.9,302.7L130.1,302.7L130.4,302.7L130.6,302.7L130.9,302.7L131.1,302.7L131.4,302.7L131.6,302.7L131.9,302.7L132.1,302.7L132.4,302.7L132.6,302.7L132.9,302.7L133.1,302.7L133.4,302.7L133.6,302.7L133.9,302.7L134.1,302.7L134.4,302.7L134.6,302.7L134.9,302.7L135.1,302.7L135.4,302.7L135.7,302.7L135.9,302.7L136.2,302.7L136.4,302.7L136.7,302.7L136.9,302.7L137.2,302.7L137.4,302.7L137.7,302.7L137.9,302.7L138.2,302.7L138.4,302.7L138.7,302.7L138.9,302.7L139.2,302.7L139.4,302.7L139.7,302.7L139.9,302.7L140.2,302.7L140.4,302.7L140.7,302.7L140.9,302.7L141.2,302.7L141.4,302.7L141.7,302.7L141.9,302.7L142.2,302.7L142.4,302.7L142.7,302.7L142.9,302.7L143.2,302.7L143.5,302.7L143.7,302.7L144.0,302.7L144.2,302.7L144.5,302.7L144.7,302.7L145.0,302.7L145.2,302.7L145.5,302.7L145.7,302.7L146.0,302.7L146.2,302.7L146.5,302.7L146.7,302.7L147.0,302.7L147.2,302.7L147.5,302.7L147.7,302.7L148.0,302.7L148.2,302.7L148.5,302.7L148.7,302.7L149.0,302.7L149.2,302.7L149.5,302.7L149.7,302.7L150.0,302.7L150.2,302.7L150.5,302.7L150.7,302.7L151.0,302.7L151.3,302.7L151.5,302.7L151.8,302.7L152.0,302.7L152.3,302.7L152.5,302.7L152.8,302.7L153.0,302.7L153.3,302.7L153.5,302.7L153.8,302.7L154.0,302.7L154.3,302.7L154.5,302.7L154.8,302.7L155.0,302.7L155.3,302.7L155.5,302.7L155.8,302.7L156.0,302.7L156.3,302.7L156.5,302.7L156.8,302.7L157.0,302.7L157.3,302.7L157.5,302.7L157.8,302.7L158.0,302.7L158.3,302.7L158.5,302.7L158.8,302.7L159.1,302.7L159.3,302.7L159.6,302.7L159.8,302.7L160.1,302.7L160.3,302.7L160.6,302.7L160.8,302.7L161.1,302.7L161.3,302.7L161.6,302.7L161.8,302.7L162.1,302.7L162.3,302.7L162.6,302.7L162.8,302.7L163.1,302.7L163.3,302.7L163.6,302.7L163.8,302.7L164.1,302.7L164.3,302.7L164.6,302.7L164.8,302.7L165.1,302.7L165.3,302.7L165.6,302.7L165.8,302.7L166.1,302.7L166.3,302.7L166.6,302.7L166.9,302.7L167.1,302.7L167.4,302.7L167.6,302.7L167.9,302.7L168.1,302.7L168.4,302.7L168.6,302.7L168.9,302.7L169.1,302.7L169.4,302.7L169.6,302.7" fill="none" stroke="#2a2a2a" stroke-width="1.2" stroke-linejoin="round"/>
<rect x="40.80" y="175.00" width="128.5" height="127.7" fill="none" stroke="#707070" stroke-width="1.2"/>
<line x1="40.80" y1="302.70" x2="169.30" y2="302.70" stroke="#444" stroke-width="1.3" />
<text x="46.80" y="290.00" font-size="8.8" text-anchor="start" font-weight="normal" fill="#2a2a2a" stroke="#2a2a2a" stroke-width="0.35">A</text>
<text x="61.00" y="283.80" font-size="8.8" text-anchor="start" font-weight="normal" fill="#2a2a2a" stroke="#2a2a2a" stroke-width="0.35">G1</text>
<text x="76.00" y="288.00" font-size="8.8" text-anchor="start" font-weight="normal" fill="#2a2a2a" stroke="#2a2a2a" stroke-width="0.35">S</text>
<text x="99.20" y="277.20" font-size="8.8" text-anchor="start" font-weight="normal" fill="#2a2a2a" stroke="#2a2a2a" stroke-width="0.35">G2-M</text>
<line x1="207.00" y1="302.70" x2="207.00" y2="305.10" stroke="#777" stroke-width="0.8" />
<text x="208.00" y="316.10" font-size="6.3" text-anchor="middle" font-weight="normal" fill="#3a3a3a" stroke="#3a3a3a" stroke-width="0.15">0</text>
<line x1="232.16" y1="302.70" x2="232.16" y2="305.10" stroke="#777" stroke-width="0.8" />
<text x="230.70" y="316.10" font-size="6.3" text-anchor="middle" font-weight="normal" fill="#3a3a3a" stroke="#3a3a3a" stroke-width="0.15">200</text>
<line x1="257.32" y1="302.70" x2="257.32" y2="305.10" stroke="#777" stroke-width="0.8" />
<text x="256.00" y="316.10" font-size="6.3" text-anchor="middle" font-weight="normal" fill="#3a3a3a" stroke="#3a3a3a" stroke-width="0.15">400</text>
<line x1="282.48" y1="302.70" x2="282.48" y2="305.10" stroke="#777" stroke-width="0.8" />
<text x="280.40" y="316.10" font-size="6.3" text-anchor="middle" font-weight="normal" fill="#3a3a3a" stroke="#3a3a3a" stroke-width="0.15">600</text>
<line x1="307.64" y1="302.70" x2="307.64" y2="305.10" stroke="#777" stroke-width="0.8" />
<text x="305.30" y="316.10" font-size="6.3" text-anchor="middle" font-weight="normal" fill="#3a3a3a" stroke="#3a3a3a" stroke-width="0.15">800</text>
<line x1="332.80" y1="302.70" x2="332.80" y2="305.10" stroke="#777" stroke-width="0.8" />
<text x="331.10" y="316.10" font-size="6.3" text-anchor="middle" font-weight="normal" fill="#3a3a3a" stroke="#3a3a3a" stroke-width="0.15">1K</text>
<line x1="219.58" y1="302.70" x2="219.58" y2="304.20" stroke="#999" stroke-width="0.7" />
<line x1="244.74" y1="302.70" x2="244.74" y2="304.20" stroke="#999" stroke-width="0.7" />
<line x1="269.90" y1="302.70" x2="269.90" y2="304.20" stroke="#999" stroke-width="0.7" />
<line x1="295.06" y1="302.70" x2="295.06" y2="304.20" stroke="#999" stroke-width="0.7" />
<line x1="320.22" y1="302.70" x2="320.22" y2="304.20" stroke="#999" stroke-width="0.7" />
<line x1="205.40" y1="302.70" x2="207.00" y2="302.70" stroke="#aaa" stroke-width="0.7" />
<line x1="205.40" y1="295.07" x2="207.00" y2="295.07" stroke="#aaa" stroke-width="0.7" />
<line x1="205.40" y1="287.45" x2="207.00" y2="287.45" stroke="#aaa" stroke-width="0.7" />
<line x1="205.40" y1="279.82" x2="207.00" y2="279.82" stroke="#aaa" stroke-width="0.7" />
<line x1="205.40" y1="272.20" x2="207.00" y2="272.20" stroke="#aaa" stroke-width="0.7" />
<line x1="205.40" y1="264.57" x2="207.00" y2="264.57" stroke="#aaa" stroke-width="0.7" />
<line x1="205.40" y1="256.95" x2="207.00" y2="256.95" stroke="#aaa" stroke-width="0.7" />
<line x1="205.40" y1="249.32" x2="207.00" y2="249.32" stroke="#aaa" stroke-width="0.7" />
<line x1="205.40" y1="241.70" x2="207.00" y2="241.70" stroke="#aaa" stroke-width="0.7" />
<line x1="205.40" y1="234.07" x2="207.00" y2="234.07" stroke="#aaa" stroke-width="0.7" />
<line x1="205.40" y1="226.45" x2="207.00" y2="226.45" stroke="#aaa" stroke-width="0.7" />
<line x1="205.40" y1="218.82" x2="207.00" y2="218.82" stroke="#aaa" stroke-width="0.7" />
<line x1="205.40" y1="211.20" x2="207.00" y2="211.20" stroke="#aaa" stroke-width="0.7" />
<line x1="205.40" y1="203.57" x2="207.00" y2="203.57" stroke="#aaa" stroke-width="0.7" />
<line x1="205.40" y1="195.95" x2="207.00" y2="195.95" stroke="#aaa" stroke-width="0.7" />
<line x1="205.40" y1="188.32" x2="207.00" y2="188.32" stroke="#aaa" stroke-width="0.7" />
<line x1="205.40" y1="180.70" x2="207.00" y2="180.70" stroke="#aaa" stroke-width="0.7" />
<line x1="203.60" y1="302.70" x2="207.00" y2="302.70" stroke="#777" stroke-width="0.8" />
<text x="201.30" y="303.00" font-size="6.2" text-anchor="end" font-weight="normal" fill="#3a3a3a" stroke="#3a3a3a" stroke-width="0.15">0</text>
<line x1="203.60" y1="272.20" x2="207.00" y2="272.20" stroke="#777" stroke-width="0.8" />
<text x="201.30" y="274.40" font-size="6.2" text-anchor="end" font-weight="normal" fill="#3a3a3a" stroke="#3a3a3a" stroke-width="0.15">200</text>
<line x1="203.60" y1="241.70" x2="207.00" y2="241.70" stroke="#777" stroke-width="0.8" />
<text x="201.30" y="243.90" font-size="6.2" text-anchor="end" font-weight="normal" fill="#3a3a3a" stroke="#3a3a3a" stroke-width="0.15">400</text>
<line x1="203.60" y1="211.20" x2="207.00" y2="211.20" stroke="#777" stroke-width="0.8" />
<text x="201.30" y="213.40" font-size="6.2" text-anchor="end" font-weight="normal" fill="#3a3a3a" stroke="#3a3a3a" stroke-width="0.15">600</text>
<line x1="203.60" y1="180.70" x2="207.00" y2="180.70" stroke="#777" stroke-width="0.8" />
<text x="201.30" y="182.90" font-size="6.2" text-anchor="end" font-weight="normal" fill="#3a3a3a" stroke="#3a3a3a" stroke-width="0.15">800</text>
<line x1="207.00" y1="296.00" x2="228.39" y2="296.00" stroke="#666" stroke-width="1.0" />
<line x1="207.00" y1="293.80" x2="207.00" y2="298.20" stroke="#666" stroke-width="0.9" />
<line x1="228.39" y1="293.80" x2="228.39" y2="298.20" stroke="#666" stroke-width="0.9" />
<line x1="235.43" y1="293.80" x2="249.77" y2="293.80" stroke="#666" stroke-width="1.0" />
<line x1="235.43" y1="291.60" x2="235.43" y2="296.00" stroke="#666" stroke-width="0.9" />
<line x1="249.77" y1="291.60" x2="249.77" y2="296.00" stroke="#666" stroke-width="0.9" />
<line x1="249.77" y1="301.20" x2="262.23" y2="301.20" stroke="#999" stroke-width="1.0" />
<line x1="249.77" y1="299.00" x2="249.77" y2="303.40" stroke="#999" stroke-width="0.9" />
<line x1="262.23" y1="299.00" x2="262.23" y2="303.40" stroke="#999" stroke-width="0.9" />
<path d="M207.0,302.7L207.3,302.6L207.5,302.6L207.8,302.5L208.0,302.5L208.3,302.4L208.5,302.4L208.8,302.4L209.0,302.3L209.3,302.3L209.5,302.3L209.8,302.3L210.0,302.3L210.3,302.3L210.5,302.3L210.8,302.2L211.0,302.2L211.3,302.2L211.5,302.2L211.8,302.2L212.0,302.2L212.3,302.2L212.5,302.1L212.8,302.1L213.0,302.1L213.3,302.1L213.5,302.1L213.8,302.1L214.0,302.0L214.3,302.0L214.5,302.0L214.8,302.0L215.1,302.0L215.3,302.0L215.6,302.0L215.8,301.9L216.1,301.9L216.3,301.9L216.6,301.9L216.8,301.9L217.1,301.9L217.3,301.9L217.6,301.8L217.8,301.8L218.1,301.8L218.3,301.8L218.6,301.8L218.8,301.8L219.1,301.7L219.3,301.7L219.6,301.7L219.8,301.7L220.1,301.7L220.3,301.7L220.6,301.7L220.8,301.6L221.1,301.6L221.3,301.6L221.6,301.6L221.8,301.6L222.1,301.6L222.3,301.6L222.6,301.5L222.9,301.5L223.1,301.5L223.4,301.5L223.6,301.5L223.9,301.5L224.1,301.4L224.4,301.4L224.6,301.4L224.9,301.4L225.1,301.4L225.4,301.4L225.6,301.4L225.9,301.3L226.1,301.3L226.4,301.3L226.6,301.3L226.9,301.3L227.1,301.3L227.4,301.3L227.6,301.2L227.9,301.2L228.1,301.2L228.4,301.2L228.6,301.2L228.9,301.2L229.1,301.2L229.4,301.1L229.6,301.1L229.9,301.1L230.1,301.1L230.4,301.1L230.7,301.1L230.9,301.1L231.2,301.1L231.4,301.0L231.7,301.0L231.9,301.0L232.2,301.0L232.4,301.0L232.7,301.0L232.9,301.0L233.2,301.0L233.4,300.9L233.7,300.9L233.9,300.9L234.2,300.9L234.4,300.9L234.7,300.9L234.9,300.9L235.2,300.7L235.4,300.6L235.7,300.4L235.9,300.3L236.2,300.1L236.4,300.0L236.7,299.8L236.9,299.7L237.2,299.5L237.4,299.4L237.7,299.2L237.9,299.1L238.2,298.9L238.4,298.8L238.7,298.7L239.0,298.5L239.2,298.4L239.5,298.3L239.7,298.3L240.0,298.2L240.2,298.2L240.5,298.1L240.7,298.0L241.0,298.0L241.2,297.9L241.5,297.9L241.7,297.8L242.0,297.7L242.2,297.7L242.5,297.6L242.7,297.5L243.0,297.5L243.2,297.6L243.5,297.7L243.7,297.7L244.0,297.8L244.2,297.9L244.5,297.9L244.7,298.0L245.0,298.0L245.2,298.1L245.5,298.2L245.7,298.2L246.0,298.3L246.2,298.3L246.5,298.4L246.8,298.5L247.0,298.6L247.3,298.7L247.5,298.8L247.8,298.9L248.0,299.0L248.3,298.9L248.5,298.9L248.8,298.7L249.0,298.3L249.3,297.7L249.5,296.8L249.8,295.6L250.0,294.0L250.3,292.0L250.5,289.4L250.8,286.1L251.0,282.2L251.3,277.6L251.5,272.1L251.8,265.8L252.0,258.8L252.3,251.1L252.5,242.9L252.8,234.3L253.0,225.6L253.3,217.0L253.5,208.8L253.8,201.4L254.0,195.1L254.3,190.0L254.6,186.5L254.8,184.7L255.1,184.7L255.3,186.5L255.6,190.0L255.8,195.0L256.1,201.3L256.3,208.7L256.6,216.8L256.8,225.4L257.1,234.1L257.3,242.6L257.6,250.8L257.8,258.5L258.1,265.5L258.3,271.7L258.6,277.2L258.8,281.8L259.1,285.7L259.3,288.9L259.6,291.4L259.8,293.5L260.1,295.0L260.3,296.2L260.6,297.2L260.8,297.8L261.1,298.3L261.3,298.7L261.6,299.0L261.8,299.1L262.1,299.3L262.4,299.4L262.6,299.4L262.9,299.5L263.1,299.5L263.4,299.5L263.6,299.6L263.9,299.6L264.1,299.6L264.4,299.6L264.6,299.6L264.9,299.6L265.1,299.7L265.4,299.7L265.6,299.7L265.9,299.7L266.1,299.8L266.4,299.8L266.6,299.8L266.9,299.8L267.1,299.9L267.4,299.9L267.6,299.9L267.9,299.9L268.1,300.0L268.4,300.0L268.6,300.0L268.9,300.0L269.1,300.1L269.4,300.1L269.6,300.1L269.9,300.3L270.2,300.4L270.4,300.6L270.7,300.7L270.9,300.9L271.2,301.0L271.4,301.2L271.7,301.4L271.9,301.6L272.2,301.8L272.4,302.0L272.7,302.2L272.9,302.4L273.2,302.6L273.4,302.6L273.7,302.6L273.9,302.6L274.2,302.6L274.4,302.7L274.7,302.7L274.9,302.7L275.2,302.7L275.4,302.7L275.7,302.7L275.9,302.7L276.2,302.7L276.4,302.7L276.7,302.7L276.9,302.7L277.2,302.7L277.4,302.7L277.7,302.7L278.0,302.7L278.2,302.7L278.5,302.7L278.7,302.7L279.0,302.7L279.2,302.7L279.5,302.7L279.7,302.7L280.0,302.7L280.2,302.7L280.5,302.7L280.7,302.7L281.0,302.7L281.2,302.7L281.5,302.7L281.7,302.7L282.0,302.7L282.2,302.7L282.5,302.7L282.7,302.7L283.0,302.7L283.2,302.7L283.5,302.7L283.7,302.7L284.0,302.7L284.2,302.7L284.5,302.7L284.7,302.7L285.0,302.7L285.2,302.7L285.5,302.7L285.8,302.7L286.0,302.7L286.3,302.7L286.5,302.7L286.8,302.7L287.0,302.7L287.3,302.7L287.5,302.7L287.8,302.7L288.0,302.7L288.3,302.7L288.5,302.7L288.8,302.7L289.0,302.7L289.3,302.7L289.5,302.7L289.8,302.7L290.0,302.7L290.3,302.7L290.5,302.7L290.8,302.7L291.0,302.7L291.3,302.7L291.5,302.7L291.8,302.7L292.0,302.7L292.3,302.7L292.5,302.7L292.8,302.7L293.0,302.7L293.3,302.7L293.6,302.7L293.8,302.7L294.1,302.7L294.3,302.7L294.6,302.7L294.8,302.7L295.1,302.7L295.3,302.7L295.6,302.7L295.8,302.7L296.1,302.7L296.3,302.7L296.6,302.7L296.8,302.7L297.1,302.7L297.3,302.7L297.6,302.7L297.8,302.7L298.1,302.7L298.3,302.7L298.6,302.7L298.8,302.7L299.1,302.7L299.3,302.7L299.6,302.7L299.8,302.7L300.1,302.7L300.3,302.7L300.6,302.7L300.8,302.7L301.1,302.7L301.4,302.7L301.6,302.7L301.9,302.7L302.1,302.7L302.4,302.7L302.6,302.7L302.9,302.7L303.1,302.7L303.4,302.7L303.6,302.7L303.9,302.7L304.1,302.7L304.4,302.7L304.6,302.7L304.9,302.7L305.1,302.7L305.4,302.7L305.6,302.7L305.9,302.7L306.1,302.7L306.4,302.7L306.6,302.7L306.9,302.7L307.1,302.7L307.4,302.7L307.6,302.7L307.9,302.7L308.1,302.7L308.4,302.7L308.6,302.7L308.9,302.7L309.1,302.7L309.4,302.7L309.7,302.7L309.9,302.7L310.2,302.7L310.4,302.7L310.7,302.7L310.9,302.7L311.2,302.7L311.4,302.7L311.7,302.7L311.9,302.7L312.2,302.7L312.4,302.7L312.7,302.7L312.9,302.7L313.2,302.7L313.4,302.7L313.7,302.7L313.9,302.7L314.2,302.7L314.4,302.7L314.7,302.7L314.9,302.7L315.2,302.7L315.4,302.7L315.7,302.7L315.9,302.7L316.2,302.7L316.4,302.7L316.7,302.7L316.9,302.7L317.2,302.7L317.5,302.7L317.7,302.7L318.0,302.7L318.2,302.7L318.5,302.7L318.7,302.7L319.0,302.7L319.2,302.7L319.5,302.7L319.7,302.7L320.0,302.7L320.2,302.7L320.5,302.7L320.7,302.7L321.0,302.7L321.2,302.7L321.5,302.7L321.7,302.7L322.0,302.7L322.2,302.7L322.5,302.7L322.7,302.7L323.0,302.7L323.2,302.7L323.5,302.7L323.7,302.7L324.0,302.7L324.2,302.7L324.5,302.7L324.7,302.7L325.0,302.7L325.3,302.7L325.5,302.7L325.8,302.7L326.0,302.7L326.3,302.7L326.5,302.7L326.8,302.7L327.0,302.7L327.3,302.7L327.5,302.7L327.8,302.7L328.0,302.7L328.3,302.7L328.5,302.7L328.8,302.7L329.0,302.7L329.3,302.7L329.5,302.7L329.8,302.7L330.0,302.7L330.3,302.7L330.5,302.7L330.8,302.7L331.0,302.7L331.3,302.7L331.5,302.7L331.8,302.7L332.0,302.7L332.3,302.7L332.5,302.7L332.8,302.7L333.1,302.7L333.3,302.7L333.6,302.7L333.8,302.7L334.1,302.7L334.3,302.7L334.6,302.7L334.8,302.7L335.1,302.7L335.3,302.7L335.6,302.7L335.8,302.7" fill="none" stroke="#2a2a2a" stroke-width="1.2" stroke-linejoin="round"/>
<rect x="207.00" y="175.00" width="128.5" height="127.7" fill="none" stroke="#707070" stroke-width="1.2"/>
<line x1="207.00" y1="302.70" x2="335.50" y2="302.70" stroke="#444" stroke-width="1.3" />
<text x="213.00" y="289.40" font-size="8.8" text-anchor="start" font-weight="normal" fill="#2a2a2a" stroke="#2a2a2a" stroke-width="0.35">A</text>
<text x="225.60" y="288.80" font-size="8.8" text-anchor="start" font-weight="normal" fill="#2a2a2a" stroke="#2a2a2a" stroke-width="0.35">G1</text>
<text x="241.90" y="290.00" font-size="8.8" text-anchor="start" font-weight="normal" fill="#2a2a2a" stroke="#2a2a2a" stroke-width="0.35">S</text>
<text x="261.90" y="255.60" font-size="8.8" text-anchor="start" font-weight="normal" fill="#2a2a2a" stroke="#2a2a2a" stroke-width="0.35">G2-M</text>
<line x1="36.60" y1="459.70" x2="36.60" y2="462.10" stroke="#777" stroke-width="0.8" />
<text x="37.60" y="473.10" font-size="6.3" text-anchor="middle" font-weight="normal" fill="#3a3a3a" stroke="#3a3a3a" stroke-width="0.15">0</text>
<line x1="61.76" y1="459.70" x2="61.76" y2="462.10" stroke="#777" stroke-width="0.8" />
<text x="60.30" y="473.10" font-size="6.3" text-anchor="middle" font-weight="normal" fill="#3a3a3a" stroke="#3a3a3a" stroke-width="0.15">200</text>
<line x1="86.92" y1="459.70" x2="86.92" y2="462.10" stroke="#777" stroke-width="0.8" />
<text x="85.60" y="473.10" font-size="6.3" text-anchor="middle" font-weight="normal" fill="#3a3a3a" stroke="#3a3a3a" stroke-width="0.15">400</text>
<line x1="112.08" y1="459.70" x2="112.08" y2="462.10" stroke="#777" stroke-width="0.8" />
<text x="110.00" y="473.10" font-size="6.3" text-anchor="middle" font-weight="normal" fill="#3a3a3a" stroke="#3a3a3a" stroke-width="0.15">600</text>
<line x1="137.24" y1="459.70" x2="137.24" y2="462.10" stroke="#777" stroke-width="0.8" />
<text x="134.90" y="473.10" font-size="6.3" text-anchor="middle" font-weight="normal" fill="#3a3a3a" stroke="#3a3a3a" stroke-width="0.15">800</text>
<line x1="162.40" y1="459.70" x2="162.40" y2="462.10" stroke="#777" stroke-width="0.8" />
<text x="160.70" y="473.10" font-size="6.3" text-anchor="middle" font-weight="normal" fill="#3a3a3a" stroke="#3a3a3a" stroke-width="0.15">1K</text>
<line x1="49.18" y1="459.70" x2="49.18" y2="461.20" stroke="#999" stroke-width="0.7" />
<line x1="74.34" y1="459.70" x2="74.34" y2="461.20" stroke="#999" stroke-width="0.7" />
<line x1="99.50" y1="459.70" x2="99.50" y2="461.20" stroke="#999" stroke-width="0.7" />
<line x1="124.66" y1="459.70" x2="124.66" y2="461.20" stroke="#999" stroke-width="0.7" />
<line x1="149.82" y1="459.70" x2="149.82" y2="461.20" stroke="#999" stroke-width="0.7" />
<line x1="35.00" y1="459.70" x2="36.60" y2="459.70" stroke="#aaa" stroke-width="0.7" />
<line x1="35.00" y1="451.52" x2="36.60" y2="451.52" stroke="#aaa" stroke-width="0.7" />
<line x1="35.00" y1="443.35" x2="36.60" y2="443.35" stroke="#aaa" stroke-width="0.7" />
<line x1="35.00" y1="435.18" x2="36.60" y2="435.18" stroke="#aaa" stroke-width="0.7" />
<line x1="35.00" y1="427.00" x2="36.60" y2="427.00" stroke="#aaa" stroke-width="0.7" />
<line x1="35.00" y1="418.82" x2="36.60" y2="418.82" stroke="#aaa" stroke-width="0.7" />
<line x1="35.00" y1="410.65" x2="36.60" y2="410.65" stroke="#aaa" stroke-width="0.7" />
<line x1="35.00" y1="402.47" x2="36.60" y2="402.47" stroke="#aaa" stroke-width="0.7" />
<line x1="35.00" y1="394.30" x2="36.60" y2="394.30" stroke="#aaa" stroke-width="0.7" />
<line x1="35.00" y1="386.12" x2="36.60" y2="386.12" stroke="#aaa" stroke-width="0.7" />
<line x1="35.00" y1="377.95" x2="36.60" y2="377.95" stroke="#aaa" stroke-width="0.7" />
<line x1="35.00" y1="369.77" x2="36.60" y2="369.77" stroke="#aaa" stroke-width="0.7" />
<line x1="35.00" y1="361.60" x2="36.60" y2="361.60" stroke="#aaa" stroke-width="0.7" />
<line x1="35.00" y1="353.42" x2="36.60" y2="353.42" stroke="#aaa" stroke-width="0.7" />
<line x1="35.00" y1="345.25" x2="36.60" y2="345.25" stroke="#aaa" stroke-width="0.7" />
<line x1="35.00" y1="337.07" x2="36.60" y2="337.07" stroke="#aaa" stroke-width="0.7" />
<line x1="33.20" y1="459.70" x2="36.60" y2="459.70" stroke="#777" stroke-width="0.8" />
<text x="30.90" y="460.00" font-size="6.2" text-anchor="end" font-weight="normal" fill="#3a3a3a" stroke="#3a3a3a" stroke-width="0.15">0</text>
<line x1="33.20" y1="427.00" x2="36.60" y2="427.00" stroke="#777" stroke-width="0.8" />
<text x="30.90" y="429.20" font-size="6.2" text-anchor="end" font-weight="normal" fill="#3a3a3a" stroke="#3a3a3a" stroke-width="0.15">200</text>
<line x1="33.20" y1="394.30" x2="36.60" y2="394.30" stroke="#777" stroke-width="0.8" />
<text x="30.90" y="396.50" font-size="6.2" text-anchor="end" font-weight="normal" fill="#3a3a3a" stroke="#3a3a3a" stroke-width="0.15">400</text>
<line x1="33.20" y1="361.60" x2="36.60" y2="361.60" stroke="#777" stroke-width="0.8" />
<text x="30.90" y="363.80" font-size="6.2" text-anchor="end" font-weight="normal" fill="#3a3a3a" stroke="#3a3a3a" stroke-width="0.15">600</text>
<line x1="36.60" y1="452.50" x2="57.99" y2="452.50" stroke="#666" stroke-width="1.0" />
<line x1="36.60" y1="450.30" x2="36.60" y2="454.70" stroke="#666" stroke-width="0.9" />
<line x1="57.99" y1="450.30" x2="57.99" y2="454.70" stroke="#666" stroke-width="0.9" />
<line x1="57.99" y1="457.80" x2="65.53" y2="457.80" stroke="#999" stroke-width="1.0" />
<line x1="57.99" y1="455.60" x2="57.99" y2="460.00" stroke="#999" stroke-width="0.9" />
<line x1="65.53" y1="455.60" x2="65.53" y2="460.00" stroke="#999" stroke-width="0.9" />
<line x1="65.53" y1="446.00" x2="80.13" y2="446.00" stroke="#666" stroke-width="1.0" />
<line x1="65.53" y1="443.80" x2="65.53" y2="448.20" stroke="#666" stroke-width="0.9" />
<line x1="80.13" y1="443.80" x2="80.13" y2="448.20" stroke="#666" stroke-width="0.9" />
<line x1="80.13" y1="455.30" x2="92.83" y2="455.30" stroke="#666" stroke-width="1.0" />
<line x1="80.13" y1="453.10" x2="80.13" y2="457.50" stroke="#666" stroke-width="0.9" />
<line x1="92.83" y1="453.10" x2="92.83" y2="457.50" stroke="#666" stroke-width="0.9" />
<path d="M36.6,459.7L36.9,459.7L37.1,459.7L37.4,459.7L37.6,459.7L37.9,459.7L38.1,459.7L38.4,459.7L38.6,459.7L38.9,459.7L39.1,459.7L39.4,459.7L39.6,459.7L39.9,459.7L40.1,459.7L40.4,459.7L40.6,459.7L40.9,459.7L41.1,459.7L41.4,459.6L41.6,459.5L41.9,459.4L42.1,459.4L42.4,459.3L42.6,459.2L42.9,459.1L43.1,459.0L43.4,458.9L43.6,458.9L43.9,458.8L44.1,458.7L44.4,458.6L44.7,458.5L44.9,458.4L45.2,458.4L45.4,458.4L45.7,458.3L45.9,458.3L46.2,458.3L46.4,458.3L46.7,458.3L46.9,458.2L47.2,458.2L47.4,458.2L47.7,458.2L47.9,458.2L48.2,458.2L48.4,458.1L48.7,458.1L48.9,458.1L49.2,458.1L49.4,458.1L49.7,458.0L49.9,458.0L50.2,458.0L50.4,458.0L50.7,458.0L50.9,457.9L51.2,457.9L51.4,457.9L51.7,457.9L51.9,457.9L52.2,457.9L52.5,457.8L52.7,457.8L53.0,457.8L53.2,457.8L53.5,457.8L53.7,457.7L54.0,457.7L54.2,457.6L54.5,457.6L54.7,457.5L55.0,457.5L55.2,457.4L55.5,457.4L55.7,457.3L56.0,457.3L56.2,457.2L56.5,457.2L56.7,457.1L57.0,457.1L57.2,457.0L57.5,457.0L57.7,456.9L58.0,456.8L58.2,456.8L58.5,456.7L58.7,456.7L59.0,456.6L59.2,456.6L59.5,456.5L59.7,456.5L60.0,456.4L60.3,456.4L60.5,456.3L60.8,456.3L61.0,456.2L61.3,456.1L61.5,456.1L61.8,456.0L62.0,456.0L62.3,455.9L62.5,455.8L62.8,455.8L63.0,455.7L63.3,455.7L63.5,455.6L63.8,455.5L64.0,455.5L64.3,455.4L64.5,455.4L64.8,455.3L65.0,455.2L65.3,455.1L65.5,455.0L65.8,454.8L66.0,454.7L66.3,454.6L66.5,454.4L66.8,454.3L67.0,454.2L67.3,454.0L67.5,453.9L67.8,453.8L68.0,453.7L68.3,453.5L68.6,453.4L68.8,453.3L69.1,453.1L69.3,453.0L69.6,452.9L69.8,452.7L70.1,452.6L70.3,452.4L70.6,452.2L70.8,451.9L71.1,451.7L71.3,451.5L71.6,451.3L71.8,451.1L72.1,450.9L72.3,450.7L72.6,450.5L72.8,450.3L73.1,450.1L73.3,449.9L73.6,449.7L73.8,449.5L74.1,449.3L74.3,449.2L74.6,449.0L74.8,448.9L75.1,448.7L75.3,448.6L75.6,448.4L75.8,448.2L76.1,448.1L76.4,448.5L76.6,448.9L76.9,449.3L77.1,449.6L77.4,450.0L77.6,450.4L77.9,450.7L78.1,451.1L78.4,451.4L78.6,451.6L78.9,451.6L79.1,451.5L79.4,451.2L79.6,450.9L79.9,450.4L80.1,449.6L80.4,448.6L80.6,447.1L80.9,445.2L81.1,442.8L81.4,439.9L81.6,436.4L81.9,432.2L82.1,427.4L82.4,421.9L82.6,415.7L82.9,409.0L83.1,401.7L83.4,394.1L83.6,386.2L83.9,378.4L84.2,370.8L84.4,363.6L84.7,357.2L84.9,351.8L85.2,347.5L85.4,344.5L85.7,343.0L85.9,343.0L86.2,344.4L86.4,347.3L86.7,351.5L86.9,356.9L87.2,363.3L87.4,370.4L87.7,377.9L87.9,385.7L88.2,393.5L88.4,401.0L88.7,408.2L88.9,414.9L89.2,421.0L89.4,426.5L89.7,431.3L89.9,435.4L90.2,438.8L90.4,441.7L90.7,444.0L90.9,445.8L91.2,447.3L91.4,448.4L91.7,449.3L92.0,449.9L92.2,450.3L92.5,450.7L92.7,451.0L93.0,451.2L93.2,451.4L93.5,451.5L93.7,451.6L94.0,451.7L94.2,451.8L94.5,451.8L94.7,451.9L95.0,451.9L95.2,451.9L95.5,452.0L95.7,452.0L96.0,452.0L96.2,451.9L96.5,451.9L96.7,451.9L97.0,451.8L97.2,451.8L97.5,451.8L97.7,451.7L98.0,451.7L98.2,451.7L98.5,451.6L98.7,451.6L99.0,451.5L99.2,451.7L99.5,452.2L99.8,452.6L100.0,453.0L100.3,453.4L100.5,453.9L100.8,454.3L101.0,454.7L101.3,455.2L101.5,455.6L101.8,456.0L102.0,456.4L102.3,457.0L102.5,457.5L102.8,458.1L103.0,458.6L103.3,459.2L103.5,459.7L103.8,459.7L104.0,459.7L104.3,459.7L104.5,459.7L104.8,459.7L105.0,459.7L105.3,459.7L105.5,459.7L105.8,459.7L106.0,459.7L106.3,459.7L106.5,459.7L106.8,459.7L107.0,459.7L107.3,459.7L107.6,459.7L107.8,459.7L108.1,459.7L108.3,459.7L108.6,459.7L108.8,459.7L109.1,459.7L109.3,459.7L109.6,459.7L109.8,459.7L110.1,459.7L110.3,459.7L110.6,459.7L110.8,459.7L111.1,459.7L111.3,459.7L111.6,459.7L111.8,459.7L112.1,459.7L112.3,459.7L112.6,459.7L112.8,459.7L113.1,459.7L113.3,459.7L113.6,459.7L113.8,459.7L114.1,459.7L114.3,459.7L114.6,459.7L114.8,459.7L115.1,459.7L115.4,459.7L115.6,459.7L115.9,459.7L116.1,459.7L116.4,459.7L116.6,459.7L116.9,459.7L117.1,459.7L117.4,459.7L117.6,459.7L117.9,459.7L118.1,459.7L118.4,459.7L118.6,459.7L118.9,459.7L119.1,459.7L119.4,459.7L119.6,459.7L119.9,459.7L120.1,459.7L120.4,459.7L120.6,459.7L120.9,459.7L121.1,459.7L121.4,459.7L121.6,459.7L121.9,459.7L122.1,459.7L122.4,459.7L122.6,459.7L122.9,459.7L123.2,459.7L123.4,459.7L123.7,459.7L123.9,459.7L124.2,459.7L124.4,459.7L124.7,459.7L124.9,459.7L125.2,459.7L125.4,459.7L125.7,459.7L125.9,459.7L126.2,459.7L126.4,459.7L126.7,459.7L126.9,459.7L127.2,459.7L127.4,459.7L127.7,459.7L127.9,459.7L128.2,459.7L128.4,459.7L128.7,459.7L128.9,459.7L129.2,459.7L129.4,459.7L129.7,459.7L129.9,459.7L130.2,459.7L130.4,459.7L130.7,459.7L130.9,459.7L131.2,459.7L131.5,459.7L131.7,459.7L132.0,459.7L132.2,459.7L132.5,459.7L132.7,459.7L133.0,459.7L133.2,459.7L133.5,459.7L133.7,459.7L134.0,459.7L134.2,459.7L134.5,459.7L134.7,459.7L135.0,459.7L135.2,459.7L135.5,459.7L135.7,459.7L136.0,459.7L136.2,459.7L136.5,459.7L136.7,459.7L137.0,459.7L137.2,459.7L137.5,459.7L137.7,459.7L138.0,459.7L138.2,459.7L138.5,459.7L138.7,459.7L139.0,459.7L139.3,459.7L139.5,459.7L139.8,459.7L140.0,459.7L140.3,459.7L140.5,459.7L140.8,459.7L141.0,459.7L141.3,459.7L141.5,459.7L141.8,459.7L142.0,459.7L142.3,459.7L142.5,459.7L142.8,459.7L143.0,459.7L143.3,459.7L143.5,459.7L143.8,459.7L144.0,459.7L144.3,459.7L144.5,459.7L144.8,459.7L145.0,459.7L145.3,459.7L145.5,459.7L145.8,459.7L146.0,459.7L146.3,459.7L146.5,459.7L146.8,459.7L147.1,459.7L147.3,459.7L147.6,459.7L147.8,459.7L148.1,459.7L148.3,459.7L148.6,459.7L148.8,459.7L149.1,459.7L149.3,459.7L149.6,459.7L149.8,459.7L150.1,459.7L150.3,459.7L150.6,459.7L150.8,459.7L151.1,459.7L151.3,459.7L151.6,459.7L151.8,459.7L152.1,459.7L152.3,459.7L152.6,459.7L152.8,459.7L153.1,459.7L153.3,459.7L153.6,459.7L153.8,459.7L154.1,459.7L154.3,459.7L154.6,459.7L154.9,459.7L155.1,459.7L155.4,459.7L155.6,459.7L155.9,459.7L156.1,459.7L156.4,459.7L156.6,459.7L156.9,459.7L157.1,459.7L157.4,459.7L157.6,459.7L157.9,459.7L158.1,459.7L158.4,459.7L158.6,459.7L158.9,459.7L159.1,459.7L159.4,459.7L159.6,459.7L159.9,459.7L160.1,459.7L160.4,459.7L160.6,459.7L160.9,459.7L161.1,459.7L161.4,459.7L161.6,459.7L161.9,459.7L162.1,459.7L162.4,459.7L162.7,459.7L162.9,459.7L163.2,459.7L163.4,459.7L163.7,459.7L163.9,459.7L164.2,459.7L164.4,459.7L164.7,459.7L164.9,459.7L165.2,459.7L165.4,459.7" fill="none" stroke="#2a2a2a" stroke-width="1.2" stroke-linejoin="round"/>
<rect x="36.60" y="332.00" width="128.5" height="127.7" fill="none" stroke="#707070" stroke-width="1.2"/>
<line x1="36.60" y1="459.70" x2="165.10" y2="459.70" stroke="#444" stroke-width="1.3" />
<text x="41.90" y="446.90" font-size="8.8" text-anchor="start" font-weight="normal" fill="#2a2a2a" stroke="#2a2a2a" stroke-width="0.35">A</text>
<text x="55.00" y="442.50" font-size="8.8" text-anchor="start" font-weight="normal" fill="#2a2a2a" stroke="#2a2a2a" stroke-width="0.35">G1</text>
<text x="71.90" y="442.50" font-size="8.8" text-anchor="start" font-weight="normal" fill="#2a2a2a" stroke="#2a2a2a" stroke-width="0.35">S</text>
<text x="96.20" y="412.50" font-size="8.8" text-anchor="start" font-weight="normal" fill="#2a2a2a" stroke="#2a2a2a" stroke-width="0.35">G2-M</text>
<line x1="207.00" y1="459.70" x2="207.00" y2="462.10" stroke="#777" stroke-width="0.8" />
<text x="208.00" y="473.10" font-size="6.3" text-anchor="middle" font-weight="normal" fill="#3a3a3a" stroke="#3a3a3a" stroke-width="0.15">0</text>
<line x1="232.16" y1="459.70" x2="232.16" y2="462.10" stroke="#777" stroke-width="0.8" />
<text x="230.70" y="473.10" font-size="6.3" text-anchor="middle" font-weight="normal" fill="#3a3a3a" stroke="#3a3a3a" stroke-width="0.15">200</text>
<line x1="257.32" y1="459.70" x2="257.32" y2="462.10" stroke="#777" stroke-width="0.8" />
<text x="256.00" y="473.10" font-size="6.3" text-anchor="middle" font-weight="normal" fill="#3a3a3a" stroke="#3a3a3a" stroke-width="0.15">400</text>
<line x1="282.48" y1="459.70" x2="282.48" y2="462.10" stroke="#777" stroke-width="0.8" />
<text x="280.40" y="473.10" font-size="6.3" text-anchor="middle" font-weight="normal" fill="#3a3a3a" stroke="#3a3a3a" stroke-width="0.15">600</text>
<line x1="307.64" y1="459.70" x2="307.64" y2="462.10" stroke="#777" stroke-width="0.8" />
<text x="305.30" y="473.10" font-size="6.3" text-anchor="middle" font-weight="normal" fill="#3a3a3a" stroke="#3a3a3a" stroke-width="0.15">800</text>
<line x1="332.80" y1="459.70" x2="332.80" y2="462.10" stroke="#777" stroke-width="0.8" />
<text x="331.10" y="473.10" font-size="6.3" text-anchor="middle" font-weight="normal" fill="#3a3a3a" stroke="#3a3a3a" stroke-width="0.15">1K</text>
<line x1="219.58" y1="459.70" x2="219.58" y2="461.20" stroke="#999" stroke-width="0.7" />
<line x1="244.74" y1="459.70" x2="244.74" y2="461.20" stroke="#999" stroke-width="0.7" />
<line x1="269.90" y1="459.70" x2="269.90" y2="461.20" stroke="#999" stroke-width="0.7" />
<line x1="295.06" y1="459.70" x2="295.06" y2="461.20" stroke="#999" stroke-width="0.7" />
<line x1="320.22" y1="459.70" x2="320.22" y2="461.20" stroke="#999" stroke-width="0.7" />
<line x1="205.40" y1="459.70" x2="207.00" y2="459.70" stroke="#aaa" stroke-width="0.7" />
<line x1="205.40" y1="452.43" x2="207.00" y2="452.43" stroke="#aaa" stroke-width="0.7" />
<line x1="205.40" y1="445.15" x2="207.00" y2="445.15" stroke="#aaa" stroke-width="0.7" />
<line x1="205.40" y1="437.88" x2="207.00" y2="437.88" stroke="#aaa" stroke-width="0.7" />
<line x1="205.40" y1="430.60" x2="207.00" y2="430.60" stroke="#aaa" stroke-width="0.7" />
<line x1="205.40" y1="423.32" x2="207.00" y2="423.32" stroke="#aaa" stroke-width="0.7" />
<line x1="205.40" y1="416.05" x2="207.00" y2="416.05" stroke="#aaa" stroke-width="0.7" />
<line x1="205.40" y1="408.77" x2="207.00" y2="408.77" stroke="#aaa" stroke-width="0.7" />
<line x1="205.40" y1="401.50" x2="207.00" y2="401.50" stroke="#aaa" stroke-width="0.7" />
<line x1="205.40" y1="394.23" x2="207.00" y2="394.23" stroke="#aaa" stroke-width="0.7" />
<line x1="205.40" y1="386.95" x2="207.00" y2="386.95" stroke="#aaa" stroke-width="0.7" />
<line x1="205.40" y1="379.68" x2="207.00" y2="379.68" stroke="#aaa" stroke-width="0.7" />
<line x1="205.40" y1="372.40" x2="207.00" y2="372.40" stroke="#aaa" stroke-width="0.7" />
<line x1="205.40" y1="365.12" x2="207.00" y2="365.12" stroke="#aaa" stroke-width="0.7" />
<line x1="205.40" y1="357.85" x2="207.00" y2="357.85" stroke="#aaa" stroke-width="0.7" />
<line x1="205.40" y1="350.57" x2="207.00" y2="350.57" stroke="#aaa" stroke-width="0.7" />
<line x1="205.40" y1="343.30" x2="207.00" y2="343.30" stroke="#aaa" stroke-width="0.7" />
<line x1="205.40" y1="336.02" x2="207.00" y2="336.02" stroke="#aaa" stroke-width="0.7" />
<line x1="203.60" y1="459.70" x2="207.00" y2="459.70" stroke="#777" stroke-width="0.8" />
<text x="201.30" y="460.00" font-size="6.2" text-anchor="end" font-weight="normal" fill="#3a3a3a" stroke="#3a3a3a" stroke-width="0.15">0</text>
<line x1="203.60" y1="430.60" x2="207.00" y2="430.60" stroke="#777" stroke-width="0.8" />
<text x="201.30" y="432.80" font-size="6.2" text-anchor="end" font-weight="normal" fill="#3a3a3a" stroke="#3a3a3a" stroke-width="0.15">200</text>
<line x1="203.60" y1="401.50" x2="207.00" y2="401.50" stroke="#777" stroke-width="0.8" />
<text x="201.30" y="403.70" font-size="6.2" text-anchor="end" font-weight="normal" fill="#3a3a3a" stroke="#3a3a3a" stroke-width="0.15">400</text>
<line x1="203.60" y1="372.40" x2="207.00" y2="372.40" stroke="#777" stroke-width="0.8" />
<text x="201.30" y="374.60" font-size="6.2" text-anchor="end" font-weight="normal" fill="#3a3a3a" stroke="#3a3a3a" stroke-width="0.15">600</text>
<line x1="203.60" y1="343.30" x2="207.00" y2="343.30" stroke="#777" stroke-width="0.8" />
<text x="201.30" y="345.50" font-size="6.2" text-anchor="end" font-weight="normal" fill="#3a3a3a" stroke="#3a3a3a" stroke-width="0.15">800</text>
<line x1="207.00" y1="452.50" x2="227.88" y2="452.50" stroke="#666" stroke-width="1.0" />
<line x1="207.00" y1="450.30" x2="207.00" y2="454.70" stroke="#666" stroke-width="0.9" />
<line x1="227.88" y1="450.30" x2="227.88" y2="454.70" stroke="#666" stroke-width="0.9" />
<line x1="227.88" y1="452.50" x2="234.80" y2="452.50" stroke="#666" stroke-width="1.0" />
<line x1="227.88" y1="450.30" x2="227.88" y2="454.70" stroke="#666" stroke-width="0.9" />
<line x1="234.80" y1="450.30" x2="234.80" y2="454.70" stroke="#666" stroke-width="0.9" />
<line x1="235.43" y1="447.30" x2="251.66" y2="447.30" stroke="#666" stroke-width="1.0" />
<line x1="235.43" y1="445.10" x2="235.43" y2="449.50" stroke="#666" stroke-width="0.9" />
<line x1="251.66" y1="445.10" x2="251.66" y2="449.50" stroke="#666" stroke-width="0.9" />
<line x1="251.03" y1="458.80" x2="265.87" y2="458.80" stroke="#666" stroke-width="1.0" />
<line x1="251.03" y1="456.60" x2="251.03" y2="461.00" stroke="#666" stroke-width="0.9" />
<line x1="265.87" y1="456.60" x2="265.87" y2="461.00" stroke="#666" stroke-width="0.9" />
<path d="M207.0,459.7L207.3,459.7L207.5,459.7L207.8,459.7L208.0,459.7L208.3,459.7L208.5,459.7L208.8,459.7L209.0,459.7L209.3,459.7L209.5,459.7L209.8,459.7L210.0,459.7L210.3,459.7L210.5,459.7L210.8,459.7L211.0,459.7L211.3,459.7L211.5,459.6L211.8,459.6L212.0,459.5L212.3,459.5L212.5,459.4L212.8,459.4L213.0,459.3L213.3,459.3L213.5,459.2L213.8,459.2L214.0,459.1L214.3,459.1L214.5,459.0L214.8,459.0L215.1,459.0L215.3,459.0L215.6,459.0L215.8,459.0L216.1,459.0L216.3,458.9L216.6,458.9L216.8,458.9L217.1,458.9L217.3,458.9L217.6,458.9L217.8,458.9L218.1,458.9L218.3,458.9L218.6,458.9L218.8,458.9L219.1,458.9L219.3,458.9L219.6,458.9L219.8,458.9L220.1,458.9L220.3,458.9L220.6,458.9L220.8,458.9L221.1,458.9L221.3,458.8L221.6,458.8L221.8,458.8L222.1,458.8L222.3,458.8L222.6,458.8L222.9,458.8L223.1,458.8L223.4,458.8L223.6,458.8L223.9,458.8L224.1,458.8L224.4,458.8L224.6,458.8L224.9,458.8L225.1,458.8L225.4,458.8L225.6,458.8L225.9,458.8L226.1,458.8L226.4,458.7L226.6,458.7L226.9,458.7L227.1,458.7L227.4,458.7L227.6,458.7L227.9,458.7L228.1,458.7L228.4,458.7L228.6,458.7L228.9,458.7L229.1,458.7L229.4,458.7L229.6,458.7L229.9,458.7L230.1,458.6L230.4,458.5L230.7,458.5L230.9,458.4L231.2,458.3L231.4,458.3L231.7,458.2L231.9,458.1L232.2,458.0L232.4,458.0L232.7,457.9L232.9,457.8L233.2,457.8L233.4,457.7L233.7,457.6L233.9,457.5L234.2,457.4L234.4,457.2L234.7,457.1L234.9,457.0L235.2,456.9L235.4,456.7L235.7,456.6L235.9,456.5L236.2,456.4L236.4,456.2L236.7,456.1L236.9,456.0L237.2,455.9L237.4,455.7L237.7,455.6L237.9,455.5L238.2,455.4L238.4,455.3L238.7,455.1L239.0,454.9L239.2,454.7L239.5,454.4L239.7,454.2L240.0,454.0L240.2,453.8L240.5,453.6L240.7,453.4L241.0,453.2L241.2,452.9L241.5,452.7L241.7,452.5L242.0,452.3L242.2,452.1L242.5,451.9L242.7,451.8L243.0,451.6L243.2,451.5L243.5,451.3L243.7,451.2L244.0,451.0L244.2,450.9L244.5,450.8L244.7,450.6L245.0,450.5L245.2,450.3L245.5,450.3L245.7,450.4L246.0,450.5L246.2,450.6L246.5,450.7L246.8,450.8L247.0,450.8L247.3,450.9L247.5,451.0L247.8,451.1L248.0,451.2L248.3,451.3L248.5,451.4L248.8,451.7L249.0,452.1L249.3,452.4L249.5,452.7L249.8,453.0L250.0,453.3L250.3,453.4L250.5,453.5L250.8,453.5L251.0,453.3L251.3,452.5L251.5,451.5L251.8,450.1L252.0,448.4L252.3,446.3L252.5,443.6L252.8,440.3L253.0,436.4L253.3,431.9L253.5,426.6L253.8,420.6L254.0,414.0L254.3,406.9L254.6,399.3L254.8,391.5L255.1,383.6L255.3,375.8L255.6,368.6L255.8,362.0L256.1,356.3L256.3,351.9L256.6,348.8L256.8,347.2L257.1,347.1L257.3,348.5L257.6,351.5L257.8,355.7L258.1,361.2L258.3,367.6L258.6,374.7L258.8,382.3L259.1,390.0L259.3,397.7L259.6,405.1L259.8,412.1L260.1,418.5L260.3,424.3L260.6,429.4L260.8,433.8L261.1,437.6L261.3,440.6L261.6,443.2L261.8,445.2L262.1,446.7L262.4,447.9L262.6,448.8L262.9,449.4L263.1,449.8L263.4,450.1L263.6,450.4L263.9,450.7L264.1,451.0L264.4,451.2L264.6,451.4L264.9,451.6L265.1,451.7L265.4,451.8L265.6,452.0L265.9,452.0L266.1,452.0L266.4,452.0L266.6,452.0L266.9,452.0L267.1,452.0L267.4,452.0L267.6,452.0L267.9,452.0L268.1,452.0L268.4,452.0L268.6,452.0L268.9,452.0L269.1,452.0L269.4,452.0L269.6,452.0L269.9,452.0L270.2,452.0L270.4,452.3L270.7,452.9L270.9,453.6L271.2,454.2L271.4,454.9L271.7,455.5L271.9,456.1L272.2,456.8L272.4,457.4L272.7,458.0L272.9,458.5L273.2,459.1L273.4,459.7L273.7,459.7L273.9,459.7L274.2,459.7L274.4,459.7L274.7,459.7L274.9,459.7L275.2,459.7L275.4,459.7L275.7,459.7L275.9,459.7L276.2,459.7L276.4,459.7L276.7,459.7L276.9,459.7L277.2,459.7L277.4,459.7L277.7,459.7L278.0,459.7L278.2,459.7L278.5,459.7L278.7,459.7L279.0,459.7L279.2,459.7L279.5,459.7L279.7,459.7L280.0,459.7L280.2,459.7L280.5,459.7L280.7,459.7L281.0,459.7L281.2,459.7L281.5,459.7L281.7,459.7L282.0,459.7L282.2,459.7L282.5,459.7L282.7,459.7L283.0,459.7L283.2,459.7L283.5,459.7L283.7,459.7L284.0,459.7L284.2,459.7L284.5,459.7L284.7,459.7L285.0,459.7L285.2,459.7L285.5,459.7L285.8,459.7L286.0,459.7L286.3,459.7L286.5,459.7L286.8,459.7L287.0,459.7L287.3,459.7L287.5,459.7L287.8,459.7L288.0,459.7L288.3,459.7L288.5,459.7L288.8,459.7L289.0,459.7L289.3,459.7L289.5,459.7L289.8,459.7L290.0,459.7L290.3,459.7L290.5,459.7L290.8,459.7L291.0,459.7L291.3,459.7L291.5,459.7L291.8,459.7L292.0,459.7L292.3,459.7L292.5,459.7L292.8,459.7L293.0,459.7L293.3,459.7L293.6,459.7L293.8,459.7L294.1,459.7L294.3,459.7L294.6,459.7L294.8,459.7L295.1,459.7L295.3,459.7L295.6,459.7L295.8,459.7L296.1,459.7L296.3,459.7L296.6,459.7L296.8,459.7L297.1,459.7L297.3,459.7L297.6,459.7L297.8,459.7L298.1,459.7L298.3,459.7L298.6,459.7L298.8,459.7L299.1,459.7L299.3,459.7L299.6,459.7L299.8,459.7L300.1,459.7L300.3,459.7L300.6,459.7L300.8,459.7L301.1,459.7L301.4,459.7L301.6,459.7L301.9,459.7L302.1,459.7L302.4,459.7L302.6,459.7L302.9,459.7L303.1,459.7L303.4,459.7L303.6,459.7L303.9,459.7L304.1,459.7L304.4,459.7L304.6,459.7L304.9,459.7L305.1,459.7L305.4,459.7L305.6,459.7L305.9,459.7L306.1,459.7L306.4,459.7L306.6,459.7L306.9,459.7L307.1,459.7L307.4,459.7L307.6,459.7L307.9,459.7L308.1,459.7L308.4,459.7L308.6,459.7L308.9,459.7L309.1,459.7L309.4,459.7L309.7,459.7L309.9,459.7L310.2,459.7L310.4,459.7L310.7,459.7L310.9,459.7L311.2,459.7L311.4,459.7L311.7,459.7L311.9,459.7L312.2,459.7L312.4,459.7L312.7,459.7L312.9,459.7L313.2,459.7L313.4,459.7L313.7,459.7L313.9,459.7L314.2,459.7L314.4,459.7L314.7,459.7L314.9,459.7L315.2,459.7L315.4,459.7L315.7,459.7L315.9,459.7L316.2,459.7L316.4,459.7L316.7,459.7L316.9,459.7L317.2,459.7L317.5,459.7L317.7,459.7L318.0,459.7L318.2,459.7L318.5,459.7L318.7,459.7L319.0,459.7L319.2,459.7L319.5,459.7L319.7,459.7L320.0,459.7L320.2,459.7L320.5,459.7L320.7,459.7L321.0,459.7L321.2,459.7L321.5,459.7L321.7,459.7L322.0,459.7L322.2,459.7L322.5,459.7L322.7,459.7L323.0,459.7L323.2,459.7L323.5,459.7L323.7,459.7L324.0,459.7L324.2,459.7L324.5,459.7L324.7,459.7L325.0,459.7L325.3,459.7L325.5,459.7L325.8,459.7L326.0,459.7L326.3,459.7L326.5,459.7L326.8,459.7L327.0,459.7L327.3,459.7L327.5,459.7L327.8,459.7L328.0,459.7L328.3,459.7L328.5,459.7L328.8,459.7L329.0,459.7L329.3,459.7L329.5,459.7L329.8,459.7L330.0,459.7L330.3,459.7L330.5,459.7L330.8,459.7L331.0,459.7L331.3,459.7L331.5,459.7L331.8,459.7L332.0,459.7L332.3,459.7L332.5,459.7L332.8,459.7L333.1,459.7L333.3,459.7L333.6,459.7L333.8,459.7L334.1,459.7L334.3,459.7L334.6,459.7L334.8,459.7L335.1,459.7L335.3,459.7L335.6,459.7L335.8,459.7" fill="none" stroke="#2a2a2a" stroke-width="1.2" stroke-linejoin="round"/>
<rect x="207.00" y="332.00" width="128.5" height="127.7" fill="none" stroke="#707070" stroke-width="1.2"/>
<line x1="207.00" y1="459.70" x2="335.50" y2="459.70" stroke="#444" stroke-width="1.3" />
<text x="212.50" y="446.20" font-size="8.8" text-anchor="start" font-weight="normal" fill="#2a2a2a" stroke="#2a2a2a" stroke-width="0.35">A</text>
<text x="226.20" y="438.80" font-size="8.8" text-anchor="start" font-weight="normal" fill="#2a2a2a" stroke="#2a2a2a" stroke-width="0.35">G1</text>
<text x="242.50" y="443.80" font-size="8.8" text-anchor="start" font-weight="normal" fill="#2a2a2a" stroke="#2a2a2a" stroke-width="0.35">S</text>
<text x="263.80" y="408.00" font-size="8.8" text-anchor="start" font-weight="normal" fill="#2a2a2a" stroke="#2a2a2a" stroke-width="0.35">G2-M</text>
<line x1="36.60" y1="612.50" x2="36.60" y2="614.90" stroke="#777" stroke-width="0.8" />
<text x="37.60" y="625.90" font-size="6.3" text-anchor="middle" font-weight="normal" fill="#3a3a3a" stroke="#3a3a3a" stroke-width="0.15">0</text>
<line x1="61.76" y1="612.50" x2="61.76" y2="614.90" stroke="#777" stroke-width="0.8" />
<text x="60.30" y="625.90" font-size="6.3" text-anchor="middle" font-weight="normal" fill="#3a3a3a" stroke="#3a3a3a" stroke-width="0.15">200</text>
<line x1="86.92" y1="612.50" x2="86.92" y2="614.90" stroke="#777" stroke-width="0.8" />
<text x="85.60" y="625.90" font-size="6.3" text-anchor="middle" font-weight="normal" fill="#3a3a3a" stroke="#3a3a3a" stroke-width="0.15">400</text>
<line x1="112.08" y1="612.50" x2="112.08" y2="614.90" stroke="#777" stroke-width="0.8" />
<text x="110.00" y="625.90" font-size="6.3" text-anchor="middle" font-weight="normal" fill="#3a3a3a" stroke="#3a3a3a" stroke-width="0.15">600</text>
<line x1="137.24" y1="612.50" x2="137.24" y2="614.90" stroke="#777" stroke-width="0.8" />
<text x="134.90" y="625.90" font-size="6.3" text-anchor="middle" font-weight="normal" fill="#3a3a3a" stroke="#3a3a3a" stroke-width="0.15">800</text>
<line x1="162.40" y1="612.50" x2="162.40" y2="614.90" stroke="#777" stroke-width="0.8" />
<text x="160.70" y="625.90" font-size="6.3" text-anchor="middle" font-weight="normal" fill="#3a3a3a" stroke="#3a3a3a" stroke-width="0.15">1K</text>
<line x1="49.18" y1="612.50" x2="49.18" y2="614.00" stroke="#999" stroke-width="0.7" />
<line x1="74.34" y1="612.50" x2="74.34" y2="614.00" stroke="#999" stroke-width="0.7" />
<line x1="99.50" y1="612.50" x2="99.50" y2="614.00" stroke="#999" stroke-width="0.7" />
<line x1="124.66" y1="612.50" x2="124.66" y2="614.00" stroke="#999" stroke-width="0.7" />
<line x1="149.82" y1="612.50" x2="149.82" y2="614.00" stroke="#999" stroke-width="0.7" />
<line x1="35.00" y1="612.60" x2="36.60" y2="612.60" stroke="#aaa" stroke-width="0.7" />
<line x1="35.00" y1="606.18" x2="36.60" y2="606.18" stroke="#aaa" stroke-width="0.7" />
<line x1="35.00" y1="599.76" x2="36.60" y2="599.76" stroke="#aaa" stroke-width="0.7" />
<line x1="35.00" y1="593.34" x2="36.60" y2="593.34" stroke="#aaa" stroke-width="0.7" />
<line x1="35.00" y1="586.92" x2="36.60" y2="586.92" stroke="#aaa" stroke-width="0.7" />
<line x1="35.00" y1="580.50" x2="36.60" y2="580.50" stroke="#aaa" stroke-width="0.7" />
<line x1="35.00" y1="574.08" x2="36.60" y2="574.08" stroke="#aaa" stroke-width="0.7" />
<line x1="35.00" y1="567.66" x2="36.60" y2="567.66" stroke="#aaa" stroke-width="0.7" />
<line x1="35.00" y1="561.24" x2="36.60" y2="561.24" stroke="#aaa" stroke-width="0.7" />
<line x1="35.00" y1="554.82" x2="36.60" y2="554.82" stroke="#aaa" stroke-width="0.7" />
<line x1="35.00" y1="548.40" x2="36.60" y2="548.40" stroke="#aaa" stroke-width="0.7" />
<line x1="35.00" y1="541.98" x2="36.60" y2="541.98" stroke="#aaa" stroke-width="0.7" />
<line x1="35.00" y1="535.56" x2="36.60" y2="535.56" stroke="#aaa" stroke-width="0.7" />
<line x1="35.00" y1="529.14" x2="36.60" y2="529.14" stroke="#aaa" stroke-width="0.7" />
<line x1="35.00" y1="522.72" x2="36.60" y2="522.72" stroke="#aaa" stroke-width="0.7" />
<line x1="35.00" y1="516.30" x2="36.60" y2="516.30" stroke="#aaa" stroke-width="0.7" />
<line x1="35.00" y1="509.88" x2="36.60" y2="509.88" stroke="#aaa" stroke-width="0.7" />
<line x1="35.00" y1="503.46" x2="36.60" y2="503.46" stroke="#aaa" stroke-width="0.7" />
<line x1="35.00" y1="497.04" x2="36.60" y2="497.04" stroke="#aaa" stroke-width="0.7" />
<line x1="35.00" y1="490.62" x2="36.60" y2="490.62" stroke="#aaa" stroke-width="0.7" />
<line x1="33.20" y1="612.60" x2="36.60" y2="612.60" stroke="#777" stroke-width="0.8" />
<text x="30.90" y="612.90" font-size="6.2" text-anchor="end" font-weight="normal" fill="#3a3a3a" stroke="#3a3a3a" stroke-width="0.15">0</text>
<line x1="33.20" y1="586.92" x2="36.60" y2="586.92" stroke="#777" stroke-width="0.8" />
<text x="30.90" y="589.12" font-size="6.2" text-anchor="end" font-weight="normal" fill="#3a3a3a" stroke="#3a3a3a" stroke-width="0.15">100</text>
<line x1="33.20" y1="561.24" x2="36.60" y2="561.24" stroke="#777" stroke-width="0.8" />
<text x="30.90" y="563.44" font-size="6.2" text-anchor="end" font-weight="normal" fill="#3a3a3a" stroke="#3a3a3a" stroke-width="0.15">200</text>
<line x1="33.20" y1="535.56" x2="36.60" y2="535.56" stroke="#777" stroke-width="0.8" />
<text x="30.90" y="537.76" font-size="6.2" text-anchor="end" font-weight="normal" fill="#3a3a3a" stroke="#3a3a3a" stroke-width="0.15">300</text>
<line x1="33.20" y1="509.88" x2="36.60" y2="509.88" stroke="#777" stroke-width="0.8" />
<text x="30.90" y="512.08" font-size="6.2" text-anchor="end" font-weight="normal" fill="#3a3a3a" stroke="#3a3a3a" stroke-width="0.15">400</text>
<line x1="36.60" y1="603.60" x2="55.60" y2="603.60" stroke="#666" stroke-width="1.0" />
<line x1="36.60" y1="601.40" x2="36.60" y2="605.80" stroke="#666" stroke-width="0.9" />
<line x1="55.60" y1="601.40" x2="55.60" y2="605.80" stroke="#666" stroke-width="0.9" />
<line x1="55.60" y1="612.40" x2="64.91" y2="612.40" stroke="#999" stroke-width="1.0" />
<line x1="55.60" y1="610.20" x2="55.60" y2="614.60" stroke="#999" stroke-width="0.9" />
<line x1="64.91" y1="610.20" x2="64.91" y2="614.60" stroke="#999" stroke-width="0.9" />
<line x1="64.91" y1="602.60" x2="81.13" y2="602.60" stroke="#666" stroke-width="1.0" />
<line x1="64.91" y1="600.40" x2="64.91" y2="604.80" stroke="#666" stroke-width="0.9" />
<line x1="81.13" y1="600.40" x2="81.13" y2="604.80" stroke="#666" stroke-width="0.9" />
<line x1="81.13" y1="612.40" x2="92.33" y2="612.40" stroke="#999" stroke-width="1.0" />
<line x1="81.13" y1="610.20" x2="81.13" y2="614.60" stroke="#999" stroke-width="0.9" />
<line x1="92.33" y1="610.20" x2="92.33" y2="614.60" stroke="#999" stroke-width="0.9" />
<path d="M36.6,612.5L36.9,612.5L37.1,612.5L37.4,612.5L37.6,612.5L37.9,612.5L38.1,612.5L38.4,612.5L38.6,612.5L38.9,612.5L39.1,612.5L39.4,612.5L39.6,612.5L39.9,612.5L40.1,612.5L40.4,612.5L40.6,612.5L40.9,612.1L41.1,611.7L41.4,611.2L41.6,610.8L41.9,610.3L42.1,609.8L42.4,609.4L42.6,608.9L42.9,608.4L43.1,608.0L43.4,607.5L43.6,607.1L43.9,606.6L44.1,606.1L44.4,605.7L44.7,605.9L44.9,606.2L45.2,606.4L45.4,606.7L45.7,606.9L45.9,607.2L46.2,607.4L46.4,607.7L46.7,607.9L46.9,608.2L47.2,608.4L47.4,608.7L47.7,608.9L47.9,609.2L48.2,609.4L48.4,609.7L48.7,609.9L48.9,609.9L49.2,609.8L49.4,609.6L49.7,609.4L49.9,609.2L50.2,609.0L50.4,608.8L50.7,608.6L50.9,608.4L51.2,608.3L51.4,608.1L51.7,607.9L51.9,607.7L52.2,607.5L52.5,607.3L52.7,607.1L53.0,607.0L53.2,607.2L53.5,607.4L53.7,607.6L54.0,607.8L54.2,608.1L54.5,608.3L54.7,608.5L55.0,608.7L55.2,608.9L55.5,609.2L55.7,609.2L56.0,609.2L56.2,609.1L56.5,609.0L56.7,608.9L57.0,608.9L57.2,608.8L57.5,608.7L57.7,608.6L58.0,608.6L58.2,608.5L58.5,608.4L58.7,608.3L59.0,608.3L59.2,608.2L59.5,608.1L59.7,608.1L60.0,608.0L60.3,607.9L60.5,607.7L60.8,607.6L61.0,607.5L61.3,607.4L61.5,607.2L61.8,607.1L62.0,607.0L62.3,606.9L62.5,606.7L62.8,606.6L63.0,606.5L63.3,606.4L63.5,606.2L63.8,606.0L64.0,605.7L64.3,605.4L64.5,605.1L64.8,604.8L65.0,604.5L65.3,604.2L65.5,603.9L65.8,603.6L66.0,603.3L66.3,602.9L66.5,602.6L66.8,602.3L67.0,602.0L67.3,601.7L67.5,601.4L67.8,601.1L68.0,600.8L68.3,600.5L68.6,600.2L68.8,599.8L69.1,599.4L69.3,598.9L69.6,598.5L69.8,598.1L70.1,597.6L70.3,597.2L70.6,596.7L70.8,596.3L71.1,595.9L71.3,595.5L71.6,595.3L71.8,595.1L72.1,594.9L72.3,594.7L72.6,594.5L72.8,594.3L73.1,594.1L73.3,593.8L73.6,593.6L73.8,593.4L74.1,593.2L74.3,593.0L74.6,592.8L74.8,592.6L75.1,592.6L75.3,592.7L75.6,592.7L75.8,592.8L76.1,592.8L76.4,592.9L76.6,592.9L76.9,593.0L77.1,593.0L77.4,593.1L77.6,593.2L77.9,593.3L78.1,593.5L78.4,593.6L78.6,593.7L78.9,593.7L79.1,593.7L79.4,593.6L79.6,593.5L79.9,593.2L80.1,592.8L80.4,592.1L80.6,591.2L80.9,590.0L81.1,588.3L81.4,586.3L81.6,583.8L81.9,580.8L82.1,577.2L82.4,573.1L82.6,568.3L82.9,562.9L83.1,557.0L83.4,550.7L83.6,544.0L83.9,537.2L84.2,530.4L84.4,523.7L84.7,517.5L84.9,511.9L85.2,507.2L85.4,503.5L85.7,501.0L85.9,499.7L86.2,499.9L86.4,501.4L86.7,504.2L86.9,508.2L87.2,513.2L87.4,519.1L87.7,525.5L87.9,532.5L88.2,539.6L88.4,546.7L88.7,553.6L88.9,560.2L89.2,566.4L89.4,572.0L89.7,577.1L89.9,581.6L90.2,585.4L90.4,588.7L90.7,591.5L90.9,593.8L91.2,595.7L91.4,597.2L91.7,598.4L92.0,599.4L92.2,600.2L92.5,600.8L92.7,601.2L93.0,601.5L93.2,601.7L93.5,601.9L93.7,602.0L94.0,602.1L94.2,602.2L94.5,602.3L94.7,602.4L95.0,602.5L95.2,602.6L95.5,602.6L95.7,602.7L96.0,602.8L96.2,602.8L96.5,602.9L96.7,603.0L97.0,603.0L97.2,603.1L97.5,603.2L97.7,603.2L98.0,603.3L98.2,603.4L98.5,603.4L98.7,603.5L99.0,603.6L99.2,603.9L99.5,604.5L99.8,605.0L100.0,605.6L100.3,606.2L100.5,606.8L100.8,607.3L101.0,607.9L101.3,608.5L101.5,609.1L101.8,609.8L102.0,610.5L102.3,611.2L102.5,611.9L102.8,612.5L103.0,612.5L103.3,612.5L103.5,612.5L103.8,612.5L104.0,612.5L104.3,612.5L104.5,612.5L104.8,612.5L105.0,612.5L105.3,612.5L105.5,612.5L105.8,612.5L106.0,612.5L106.3,612.5L106.5,612.5L106.8,612.5L107.0,612.5L107.3,612.5L107.6,612.5L107.8,612.5L108.1,612.5L108.3,612.5L108.6,612.5L108.8,612.5L109.1,612.5L109.3,612.5L109.6,612.5L109.8,612.5L110.1,612.5L110.3,612.5L110.6,612.5L110.8,612.5L111.1,612.5L111.3,612.5L111.6,612.5L111.8,612.5L112.1,612.5L112.3,612.5L112.6,612.5L112.8,612.5L113.1,612.5L113.3,612.5L113.6,612.5L113.8,612.5L114.1,612.5L114.3,612.5L114.6,612.5L114.8,612.5L115.1,612.5L115.4,612.5L115.6,612.5L115.9,612.5L116.1,612.5L116.4,612.5L116.6,612.5L116.9,612.5L117.1,612.5L117.4,612.5L117.6,612.5L117.9,612.5L118.1,612.5L118.4,612.5L118.6,612.5L118.9,612.5L119.1,612.5L119.4,612.5L119.6,612.5L119.9,612.5L120.1,612.5L120.4,612.5L120.6,612.5L120.9,612.5L121.1,612.5L121.4,612.5L121.6,612.5L121.9,612.5L122.1,612.5L122.4,612.5L122.6,612.5L122.9,612.5L123.2,612.5L123.4,612.5L123.7,612.5L123.9,612.5L124.2,612.5L124.4,612.5L124.7,612.5L124.9,612.5L125.2,612.5L125.4,612.5L125.7,612.5L125.9,612.5L126.2,612.5L126.4,612.5L126.7,612.5L126.9,612.5L127.2,612.5L127.4,612.5L127.7,612.5L127.9,612.5L128.2,612.5L128.4,612.5L128.7,612.5L128.9,612.5L129.2,612.5L129.4,612.5L129.7,612.5L129.9,612.5L130.2,612.5L130.4,612.5L130.7,612.5L130.9,612.5L131.2,612.5L131.5,612.5L131.7,612.5L132.0,612.5L132.2,612.5L132.5,612.5L132.7,612.5L133.0,612.5L133.2,612.5L133.5,612.5L133.7,612.5L134.0,612.5L134.2,612.5L134.5,612.5L134.7,612.5L135.0,612.5L135.2,612.5L135.5,612.5L135.7,612.5L136.0,612.5L136.2,612.5L136.5,612.5L136.7,612.5L137.0,612.5L137.2,612.5L137.5,612.5L137.7,612.5L138.0,612.5L138.2,612.5L138.5,612.5L138.7,612.5L139.0,612.5L139.3,612.5L139.5,612.5L139.8,612.5L140.0,612.5L140.3,612.5L140.5,612.5L140.8,612.5L141.0,612.5L141.3,612.5L141.5,612.5L141.8,612.5L142.0,612.5L142.3,612.5L142.5,612.5L142.8,612.5L143.0,612.5L143.3,612.5L143.5,612.5L143.8,612.5L144.0,612.5L144.3,612.5L144.5,612.5L144.8,612.5L145.0,612.5L145.3,612.5L145.5,612.5L145.8,612.5L146.0,612.5L146.3,612.5L146.5,612.5L146.8,612.5L147.1,612.5L147.3,612.5L147.6,612.5L147.8,612.5L148.1,612.5L148.3,612.5L148.6,612.5L148.8,612.5L149.1,612.5L149.3,612.5L149.6,612.5L149.8,612.5L150.1,612.5L150.3,612.5L150.6,612.5L150.8,612.5L151.1,612.5L151.3,612.5L151.6,612.5L151.8,612.5L152.1,612.5L152.3,612.5L152.6,612.5L152.8,612.5L153.1,612.5L153.3,612.5L153.6,612.5L153.8,612.5L154.1,612.5L154.3,612.5L154.6,612.5L154.9,612.5L155.1,612.5L155.4,612.5L155.6,612.5L155.9,612.5L156.1,612.5L156.4,612.5L156.6,612.5L156.9,612.5L157.1,612.5L157.4,612.5L157.6,612.5L157.9,612.5L158.1,612.5L158.4,612.5L158.6,612.5L158.9,612.5L159.1,612.5L159.4,612.5L159.6,612.5L159.9,612.5L160.1,612.5L160.4,612.5L160.6,612.5L160.9,612.5L161.1,612.5L161.4,612.5L161.6,612.5L161.9,612.5L162.1,612.5L162.4,612.5L162.7,612.5L162.9,612.5L163.2,612.5L163.4,612.5L163.7,612.5L163.9,612.5L164.2,612.5L164.4,612.5L164.7,612.5L164.9,612.5L165.2,612.5L165.4,612.5" fill="none" stroke="#2a2a2a" stroke-width="1.2" stroke-linejoin="round"/>
<rect x="36.60" y="484.80" width="128.5" height="127.7" fill="none" stroke="#707070" stroke-width="1.2"/>
<line x1="36.60" y1="612.50" x2="165.10" y2="612.50" stroke="#444" stroke-width="1.3" />
<text x="41.20" y="597.60" font-size="8.8" text-anchor="start" font-weight="normal" fill="#2a2a2a" stroke="#2a2a2a" stroke-width="0.35">A</text>
<text x="54.40" y="598.90" font-size="8.8" text-anchor="start" font-weight="normal" fill="#2a2a2a" stroke="#2a2a2a" stroke-width="0.35">G1</text>
<text x="70.60" y="582.60" font-size="8.8" text-anchor="start" font-weight="normal" fill="#2a2a2a" stroke="#2a2a2a" stroke-width="0.35">S</text>
<text x="97.50" y="595.00" font-size="8.8" text-anchor="start" font-weight="normal" fill="#2a2a2a" stroke="#2a2a2a" stroke-width="0.35">G2-M</text>
<line x1="207.00" y1="612.50" x2="207.00" y2="614.90" stroke="#777" stroke-width="0.8" />
<text x="208.00" y="625.90" font-size="6.3" text-anchor="middle" font-weight="normal" fill="#3a3a3a" stroke="#3a3a3a" stroke-width="0.15">0</text>
<line x1="232.16" y1="612.50" x2="232.16" y2="614.90" stroke="#777" stroke-width="0.8" />
<text x="230.70" y="625.90" font-size="6.3" text-anchor="middle" font-weight="normal" fill="#3a3a3a" stroke="#3a3a3a" stroke-width="0.15">200</text>
<line x1="257.32" y1="612.50" x2="257.32" y2="614.90" stroke="#777" stroke-width="0.8" />
<text x="256.00" y="625.90" font-size="6.3" text-anchor="middle" font-weight="normal" fill="#3a3a3a" stroke="#3a3a3a" stroke-width="0.15">400</text>
<line x1="282.48" y1="612.50" x2="282.48" y2="614.90" stroke="#777" stroke-width="0.8" />
<text x="280.40" y="625.90" font-size="6.3" text-anchor="middle" font-weight="normal" fill="#3a3a3a" stroke="#3a3a3a" stroke-width="0.15">600</text>
<line x1="307.64" y1="612.50" x2="307.64" y2="614.90" stroke="#777" stroke-width="0.8" />
<text x="305.30" y="625.90" font-size="6.3" text-anchor="middle" font-weight="normal" fill="#3a3a3a" stroke="#3a3a3a" stroke-width="0.15">800</text>
<line x1="332.80" y1="612.50" x2="332.80" y2="614.90" stroke="#777" stroke-width="0.8" />
<text x="331.10" y="625.90" font-size="6.3" text-anchor="middle" font-weight="normal" fill="#3a3a3a" stroke="#3a3a3a" stroke-width="0.15">1K</text>
<line x1="219.58" y1="612.50" x2="219.58" y2="614.00" stroke="#999" stroke-width="0.7" />
<line x1="244.74" y1="612.50" x2="244.74" y2="614.00" stroke="#999" stroke-width="0.7" />
<line x1="269.90" y1="612.50" x2="269.90" y2="614.00" stroke="#999" stroke-width="0.7" />
<line x1="295.06" y1="612.50" x2="295.06" y2="614.00" stroke="#999" stroke-width="0.7" />
<line x1="320.22" y1="612.50" x2="320.22" y2="614.00" stroke="#999" stroke-width="0.7" />
<line x1="205.40" y1="612.60" x2="207.00" y2="612.60" stroke="#aaa" stroke-width="0.7" />
<line x1="205.40" y1="602.70" x2="207.00" y2="602.70" stroke="#aaa" stroke-width="0.7" />
<line x1="205.40" y1="592.80" x2="207.00" y2="592.80" stroke="#aaa" stroke-width="0.7" />
<line x1="205.40" y1="582.90" x2="207.00" y2="582.90" stroke="#aaa" stroke-width="0.7" />
<line x1="205.40" y1="573.00" x2="207.00" y2="573.00" stroke="#aaa" stroke-width="0.7" />
<line x1="205.40" y1="563.10" x2="207.00" y2="563.10" stroke="#aaa" stroke-width="0.7" />
<line x1="205.40" y1="553.20" x2="207.00" y2="553.20" stroke="#aaa" stroke-width="0.7" />
<line x1="205.40" y1="543.30" x2="207.00" y2="543.30" stroke="#aaa" stroke-width="0.7" />
<line x1="205.40" y1="533.40" x2="207.00" y2="533.40" stroke="#aaa" stroke-width="0.7" />
<line x1="205.40" y1="523.50" x2="207.00" y2="523.50" stroke="#aaa" stroke-width="0.7" />
<line x1="205.40" y1="513.60" x2="207.00" y2="513.60" stroke="#aaa" stroke-width="0.7" />
<line x1="205.40" y1="503.70" x2="207.00" y2="503.70" stroke="#aaa" stroke-width="0.7" />
<line x1="205.40" y1="493.80" x2="207.00" y2="493.80" stroke="#aaa" stroke-width="0.7" />
<line x1="203.60" y1="612.60" x2="207.00" y2="612.60" stroke="#777" stroke-width="0.8" />
<text x="201.30" y="612.90" font-size="6.2" text-anchor="end" font-weight="normal" fill="#3a3a3a" stroke="#3a3a3a" stroke-width="0.15">0</text>
<line x1="203.60" y1="573.00" x2="207.00" y2="573.00" stroke="#777" stroke-width="0.8" />
<text x="201.30" y="575.20" font-size="6.2" text-anchor="end" font-weight="normal" fill="#3a3a3a" stroke="#3a3a3a" stroke-width="0.15">200</text>
<line x1="203.60" y1="533.40" x2="207.00" y2="533.40" stroke="#777" stroke-width="0.8" />
<text x="201.30" y="535.60" font-size="6.2" text-anchor="end" font-weight="normal" fill="#3a3a3a" stroke="#3a3a3a" stroke-width="0.15">400</text>
<line x1="203.60" y1="493.80" x2="207.00" y2="493.80" stroke="#777" stroke-width="0.8" />
<text x="201.30" y="496.00" font-size="6.2" text-anchor="end" font-weight="normal" fill="#3a3a3a" stroke="#3a3a3a" stroke-width="0.15">600</text>
<line x1="207.00" y1="605.00" x2="227.38" y2="605.00" stroke="#666" stroke-width="1.0" />
<line x1="207.00" y1="602.80" x2="207.00" y2="607.20" stroke="#666" stroke-width="0.9" />
<line x1="227.38" y1="602.80" x2="227.38" y2="607.20" stroke="#666" stroke-width="0.9" />
<line x1="227.38" y1="612.40" x2="235.43" y2="612.40" stroke="#999" stroke-width="1.0" />
<line x1="227.38" y1="610.20" x2="227.38" y2="614.60" stroke="#999" stroke-width="0.9" />
<line x1="235.43" y1="610.20" x2="235.43" y2="614.60" stroke="#999" stroke-width="0.9" />
<line x1="238.58" y1="601.80" x2="249.77" y2="601.80" stroke="#666" stroke-width="1.0" />
<line x1="238.58" y1="599.60" x2="238.58" y2="604.00" stroke="#666" stroke-width="0.9" />
<line x1="249.77" y1="599.60" x2="249.77" y2="604.00" stroke="#666" stroke-width="0.9" />
<line x1="249.77" y1="612.40" x2="262.73" y2="612.40" stroke="#999" stroke-width="1.0" />
<line x1="249.77" y1="610.20" x2="249.77" y2="614.60" stroke="#999" stroke-width="0.9" />
<line x1="262.73" y1="610.20" x2="262.73" y2="614.60" stroke="#999" stroke-width="0.9" />
<path d="M207.0,612.5L207.3,612.5L207.5,612.5L207.8,612.5L208.0,612.5L208.3,612.5L208.5,612.5L208.8,612.5L209.0,612.5L209.3,612.5L209.5,612.5L209.8,612.5L210.0,612.5L210.3,612.5L210.5,612.5L210.8,612.5L211.0,612.5L211.3,612.5L211.5,612.1L211.8,611.6L212.0,611.2L212.3,610.7L212.5,610.2L212.8,609.7L213.0,609.3L213.3,608.8L213.5,608.3L213.8,607.8L214.0,607.3L214.3,606.9L214.5,606.8L214.8,606.8L215.1,606.8L215.3,606.8L215.6,606.8L215.8,606.7L216.1,606.7L216.3,606.7L216.6,606.7L216.8,606.7L217.1,606.7L217.3,606.6L217.6,606.6L217.8,606.6L218.1,606.6L218.3,606.6L218.6,606.5L218.8,606.5L219.1,606.5L219.3,606.5L219.6,606.5L219.8,606.4L220.1,606.4L220.3,606.4L220.6,606.4L220.8,606.4L221.1,606.3L221.3,606.3L221.6,606.3L221.8,606.3L222.1,606.3L222.3,606.3L222.6,606.2L222.9,606.2L223.1,606.2L223.4,606.2L223.6,606.2L223.9,606.1L224.1,606.1L224.4,606.1L224.6,606.1L224.9,606.1L225.1,606.1L225.4,606.1L225.6,606.2L225.9,606.2L226.1,606.3L226.4,606.3L226.6,606.3L226.9,606.4L227.1,606.4L227.4,606.5L227.6,606.6L227.9,606.8L228.1,606.9L228.4,607.1L228.6,607.3L228.9,607.4L229.1,607.6L229.4,607.7L229.6,607.9L229.9,608.0L230.1,607.9L230.4,607.7L230.7,607.6L230.9,607.4L231.2,607.2L231.4,607.1L231.7,606.9L231.9,606.7L232.2,606.6L232.4,606.4L232.7,606.2L232.9,606.1L233.2,605.9L233.4,605.8L233.7,605.5L233.9,605.3L234.2,605.0L234.4,604.8L234.7,604.5L234.9,604.3L235.2,604.0L235.4,603.8L235.7,603.5L235.9,603.3L236.2,603.0L236.4,602.8L236.7,602.5L236.9,602.1L237.2,601.6L237.4,601.2L237.7,600.7L237.9,600.3L238.2,599.8L238.4,599.4L238.7,599.0L239.0,598.5L239.2,598.1L239.5,597.6L239.7,597.2L240.0,596.8L240.2,596.4L240.5,596.0L240.7,595.6L241.0,595.2L241.2,594.8L241.5,594.4L241.7,594.0L242.0,593.6L242.2,593.2L242.5,592.8L242.7,592.4L243.0,592.0L243.2,591.9L243.5,591.8L243.7,591.8L244.0,591.7L244.2,591.6L244.5,591.5L244.7,591.4L245.0,591.3L245.2,591.3L245.5,591.4L245.7,591.7L246.0,592.0L246.2,592.4L246.5,592.7L246.8,593.0L247.0,593.4L247.3,593.7L247.5,594.0L247.8,594.4L248.0,594.8L248.3,595.3L248.5,595.8L248.8,596.2L249.0,596.7L249.3,597.1L249.5,597.5L249.8,597.9L250.0,598.2L250.3,598.5L250.5,598.5L250.8,598.2L251.0,597.8L251.3,597.2L251.5,596.3L251.8,595.2L252.0,593.8L252.3,592.0L252.5,589.7L252.8,586.9L253.0,583.5L253.3,579.5L253.5,574.8L253.8,569.5L254.0,563.5L254.3,556.9L254.6,549.9L254.8,542.4L255.1,534.8L255.3,527.2L255.6,519.8L255.8,512.9L256.1,506.7L256.3,501.4L256.6,497.2L256.8,494.4L257.1,493.0L257.3,493.0L257.6,494.5L257.8,497.5L258.1,501.7L258.3,507.1L258.6,513.5L258.8,520.5L259.1,528.0L259.3,535.7L259.6,543.4L259.8,550.9L260.1,558.1L260.3,564.7L260.6,570.8L260.8,576.2L261.1,581.0L261.3,585.1L261.6,588.6L261.8,591.5L262.1,593.9L262.4,595.8L262.6,597.3L262.9,598.5L263.1,599.5L263.4,600.2L263.6,600.8L263.9,601.3L264.1,601.7L264.4,602.1L264.6,602.4L264.9,602.6L265.1,602.9L265.4,603.1L265.6,603.3L265.9,603.4L266.1,603.6L266.4,603.8L266.6,603.9L266.9,604.1L267.1,604.3L267.4,604.4L267.6,604.6L267.9,604.7L268.1,604.9L268.4,605.0L268.6,605.1L268.9,605.3L269.1,605.4L269.4,605.6L269.6,605.7L269.9,605.9L270.2,606.0L270.4,606.3L270.7,606.8L270.9,607.3L271.2,607.8L271.4,608.3L271.7,608.8L271.9,609.2L272.2,609.7L272.4,610.2L272.7,610.6L272.9,611.0L273.2,611.3L273.4,611.7L273.7,612.1L273.9,612.4L274.2,612.5L274.4,612.5L274.7,612.5L274.9,612.5L275.2,612.5L275.4,612.5L275.7,612.5L275.9,612.5L276.2,612.5L276.4,612.5L276.7,612.5L276.9,612.5L277.2,612.5L277.4,612.5L277.7,612.5L278.0,612.5L278.2,612.5L278.5,612.5L278.7,612.5L279.0,612.5L279.2,612.5L279.5,612.5L279.7,612.5L280.0,612.5L280.2,612.5L280.5,612.5L280.7,612.5L281.0,612.5L281.2,612.5L281.5,612.5L281.7,612.5L282.0,612.5L282.2,612.5L282.5,612.5L282.7,612.5L283.0,612.5L283.2,612.5L283.5,612.5L283.7,612.5L284.0,612.5L284.2,612.5L284.5,612.5L284.7,612.5L285.0,612.5L285.2,612.5L285.5,612.5L285.8,612.5L286.0,612.5L286.3,612.5L286.5,612.5L286.8,612.5L287.0,612.5L287.3,612.5L287.5,612.5L287.8,612.5L288.0,612.5L288.3,612.5L288.5,612.5L288.8,612.5L289.0,612.5L289.3,612.5L289.5,612.5L289.8,612.5L290.0,612.5L290.3,612.5L290.5,612.5L290.8,612.5L291.0,612.5L291.3,612.5L291.5,612.5L291.8,612.5L292.0,612.5L292.3,612.5L292.5,612.5L292.8,612.5L293.0,612.5L293.3,612.5L293.6,612.5L293.8,612.5L294.1,612.5L294.3,612.5L294.6,612.5L294.8,612.5L295.1,612.5L295.3,612.5L295.6,612.5L295.8,612.5L296.1,612.5L296.3,612.5L296.6,612.5L296.8,612.5L297.1,612.5L297.3,612.5L297.6,612.5L297.8,612.5L298.1,612.5L298.3,612.5L298.6,612.5L298.8,612.5L299.1,612.5L299.3,612.5L299.6,612.5L299.8,612.5L300.1,612.5L300.3,612.5L300.6,612.5L300.8,612.5L301.1,612.5L301.4,612.5L301.6,612.5L301.9,612.5L302.1,612.5L302.4,612.5L302.6,612.5L302.9,612.5L303.1,612.5L303.4,612.5L303.6,612.5L303.9,612.5L304.1,612.5L304.4,612.5L304.6,612.5L304.9,612.5L305.1,612.5L305.4,612.5L305.6,612.5L305.9,612.5L306.1,612.5L306.4,612.5L306.6,612.5L306.9,612.5L307.1,612.5L307.4,612.5L307.6,612.5L307.9,612.5L308.1,612.5L308.4,612.5L308.6,612.5L308.9,612.5L309.1,612.5L309.4,612.5L309.7,612.5L309.9,612.5L310.2,612.5L310.4,612.5L310.7,612.5L310.9,612.5L311.2,612.5L311.4,612.5L311.7,612.5L311.9,612.5L312.2,612.5L312.4,612.5L312.7,612.5L312.9,612.5L313.2,612.5L313.4,612.5L313.7,612.5L313.9,612.5L314.2,612.5L314.4,612.5L314.7,612.5L314.9,612.5L315.2,612.5L315.4,612.5L315.7,612.5L315.9,612.5L316.2,612.5L316.4,612.5L316.7,612.5L316.9,612.5L317.2,612.5L317.5,612.5L317.7,612.5L318.0,612.5L318.2,612.5L318.5,612.5L318.7,612.5L319.0,612.5L319.2,612.5L319.5,612.5L319.7,612.5L320.0,612.5L320.2,612.5L320.5,612.5L320.7,612.5L321.0,612.5L321.2,612.5L321.5,612.5L321.7,612.5L322.0,612.5L322.2,612.5L322.5,612.5L322.7,612.5L323.0,612.5L323.2,612.5L323.5,612.5L323.7,612.5L324.0,612.5L324.2,612.5L324.5,612.5L324.7,612.5L325.0,612.5L325.3,612.5L325.5,612.5L325.8,612.5L326.0,612.5L326.3,612.5L326.5,612.5L326.8,612.5L327.0,612.5L327.3,612.5L327.5,612.5L327.8,612.5L328.0,612.5L328.3,612.5L328.5,612.5L328.8,612.5L329.0,612.5L329.3,612.5L329.5,612.5L329.8,612.5L330.0,612.5L330.3,612.5L330.5,612.5L330.8,612.5L331.0,612.5L331.3,612.5L331.5,612.5L331.8,612.5L332.0,612.5L332.3,612.5L332.5,612.5L332.8,612.5L333.1,612.5L333.3,612.5L333.6,612.5L333.8,612.5L334.1,612.5L334.3,612.5L334.6,612.5L334.8,612.5L335.1,612.5L335.3,612.5L335.6,612.5L335.8,612.5" fill="none" stroke="#2a2a2a" stroke-width="1.2" stroke-linejoin="round"/>
<rect x="207.00" y="484.80" width="128.5" height="127.7" fill="none" stroke="#707070" stroke-width="1.2"/>
<line x1="207.00" y1="612.50" x2="335.50" y2="612.50" stroke="#444" stroke-width="1.3" />
<text x="211.90" y="599.50" font-size="8.8" text-anchor="start" font-weight="normal" fill="#2a2a2a" stroke="#2a2a2a" stroke-width="0.35">A</text>
<text x="226.20" y="590.10" font-size="8.8" text-anchor="start" font-weight="normal" fill="#2a2a2a" stroke="#2a2a2a" stroke-width="0.35">G1</text>
<text x="241.20" y="582.60" font-size="8.8" text-anchor="start" font-weight="normal" fill="#2a2a2a" stroke="#2a2a2a" stroke-width="0.35">S</text>
<text x="266.20" y="563.20" font-size="8.8" text-anchor="start" font-weight="normal" fill="#2a2a2a" stroke="#2a2a2a" stroke-width="0.35">G2-M</text>
<rect x="422.00" y="139.22" width="7.80" height="0.28" fill="#fff" stroke="#000" stroke-width="1.2"/>
<rect x="434.40" y="138.91" width="9.00" height="0.59" fill="#000"/>
<line x1="461.50" y1="68.73" x2="461.50" y2="68.16" stroke="#000" stroke-width="1.1" />
<line x1="458.90" y1="68.16" x2="464.10" y2="68.16" stroke="#000" stroke-width="1.1" />
<rect x="457.60" y="68.73" width="7.80" height="70.77" fill="#fff" stroke="#000" stroke-width="1.2"/>
<line x1="474.50" y1="66.35" x2="474.50" y2="65.88" stroke="#000" stroke-width="1.1" />
<line x1="471.90" y1="65.88" x2="477.10" y2="65.88" stroke="#000" stroke-width="1.1" />
<rect x="470.00" y="65.95" width="9.00" height="73.55" fill="#000"/>
<line x1="497.10" y1="138.74" x2="497.10" y2="138.55" stroke="#000" stroke-width="1.1" />
<line x1="494.50" y1="138.55" x2="499.70" y2="138.55" stroke="#000" stroke-width="1.1" />
<rect x="493.20" y="138.74" width="7.80" height="0.76" fill="#fff" stroke="#000" stroke-width="1.2"/>
<rect x="505.60" y="138.81" width="9.00" height="0.68" fill="#000"/>
<line x1="532.90" y1="116.22" x2="532.90" y2="115.75" stroke="#000" stroke-width="1.1" />
<line x1="530.30" y1="115.75" x2="535.50" y2="115.75" stroke="#000" stroke-width="1.1" />
<rect x="529.00" y="116.22" width="7.80" height="23.28" fill="#fff" stroke="#000" stroke-width="1.2"/>
<line x1="545.90" y1="118.12" x2="545.90" y2="117.75" stroke="#000" stroke-width="1.1" />
<line x1="543.30" y1="117.75" x2="548.50" y2="117.75" stroke="#000" stroke-width="1.1" />
<rect x="541.40" y="117.72" width="9.00" height="21.77" fill="#000"/>
<line x1="414.60" y1="44.00" x2="414.60" y2="140.10" stroke="#000" stroke-width="1.3" />
<line x1="414.00" y1="139.50" x2="556.00" y2="139.50" stroke="#000" stroke-width="1.3" />
<line x1="411.60" y1="139.50" x2="414.60" y2="139.50" stroke="#000" stroke-width="1.1" />
<text x="411.10" y="141.90" font-size="6.8" text-anchor="end" font-weight="normal" fill="#111" >0</text>
<line x1="411.60" y1="120.50" x2="414.60" y2="120.50" stroke="#000" stroke-width="1.1" />
<text x="411.10" y="122.90" font-size="6.8" text-anchor="end" font-weight="normal" fill="#111" >20</text>
<line x1="411.60" y1="101.50" x2="414.60" y2="101.50" stroke="#000" stroke-width="1.1" />
<text x="411.10" y="103.90" font-size="6.8" text-anchor="end" font-weight="normal" fill="#111" >40</text>
<line x1="411.60" y1="82.50" x2="414.60" y2="82.50" stroke="#000" stroke-width="1.1" />
<text x="411.10" y="84.90" font-size="6.8" text-anchor="end" font-weight="normal" fill="#111" >60</text>
<line x1="411.60" y1="63.50" x2="414.60" y2="63.50" stroke="#000" stroke-width="1.1" />
<text x="411.10" y="65.90" font-size="6.8" text-anchor="end" font-weight="normal" fill="#111" >80</text>
<line x1="411.60" y1="44.50" x2="414.60" y2="44.50" stroke="#000" stroke-width="1.1" />
<text x="411.10" y="46.90" font-size="6.8" text-anchor="end" font-weight="normal" fill="#111" >100</text>
<line x1="432.40" y1="139.50" x2="432.40" y2="142.50" stroke="#000" stroke-width="1.1" />
<text x="434.00" y="149.70" font-size="9.5" text-anchor="end" fill="#222" stroke="#222" stroke-width="0.2" transform="rotate(-45 434.00 149.70)">A</text>
<line x1="468.00" y1="139.50" x2="468.00" y2="142.50" stroke="#000" stroke-width="1.1" />
<text x="469.60" y="149.70" font-size="9.5" text-anchor="end" fill="#222" stroke="#222" stroke-width="0.2" transform="rotate(-45 469.60 149.70)">G1</text>
<line x1="503.60" y1="139.50" x2="503.60" y2="142.50" stroke="#000" stroke-width="1.1" />
<text x="505.20" y="149.70" font-size="9.5" text-anchor="end" fill="#222" stroke="#222" stroke-width="0.2" transform="rotate(-45 505.20 149.70)">S</text>
<line x1="539.40" y1="139.50" x2="539.40" y2="142.50" stroke="#000" stroke-width="1.1" />
<text x="541.00" y="149.70" font-size="9.5" text-anchor="end" fill="#222" stroke="#222" stroke-width="0.2" transform="rotate(-45 541.00 149.70)">G2/M</text>
<text x="467.00" y="32.20" font-size="9.3" text-anchor="start" font-weight="normal" fill="#222" stroke="#222" stroke-width="0.15">0 hrs</text>
<text x="393.50" y="90.70" font-size="10" font-weight="bold" text-anchor="middle" fill="#222" transform="rotate(-90 393.50 90.70)">%</text>
<rect x="566.75" y="48.05" width="10.5" height="6" fill="#fff" stroke="#000" stroke-width="1.5"/>
<rect x="566.00" y="58.60" width="12" height="7.5" fill="#000"/>
<text x="582.40" y="53.90" font-size="7.6" text-anchor="start" font-weight="normal" fill="#111" letter-spacing="-0.4" stroke="#111" stroke-width="0.25">WT</text>
<text x="582.60" y="64.90" font-size="7.6" text-anchor="start" font-weight="normal" fill="#111" letter-spacing="-0.2" stroke="#111" stroke-width="0.25">TG</text>
<line x1="424.50" y1="280.63" x2="424.50" y2="280.45" stroke="#000" stroke-width="1.1" />
<line x1="421.90" y1="280.45" x2="427.10" y2="280.45" stroke="#000" stroke-width="1.1" />
<rect x="420.60" y="280.63" width="7.80" height="1.37" fill="#fff" stroke="#000" stroke-width="1.2"/>
<line x1="437.50" y1="280.63" x2="437.50" y2="280.45" stroke="#000" stroke-width="1.1" />
<line x1="434.90" y1="280.45" x2="440.10" y2="280.45" stroke="#000" stroke-width="1.1" />
<rect x="433.00" y="280.24" width="9.00" height="1.77" fill="#000"/>
<line x1="459.50" y1="280.63" x2="459.50" y2="280.45" stroke="#000" stroke-width="1.1" />
<line x1="456.90" y1="280.45" x2="462.10" y2="280.45" stroke="#000" stroke-width="1.1" />
<rect x="455.60" y="280.63" width="7.80" height="1.37" fill="#fff" stroke="#000" stroke-width="1.2"/>
<line x1="472.50" y1="280.91" x2="472.50" y2="280.73" stroke="#000" stroke-width="1.1" />
<line x1="469.90" y1="280.73" x2="475.10" y2="280.73" stroke="#000" stroke-width="1.1" />
<rect x="468.00" y="280.51" width="9.00" height="1.49" fill="#000"/>
<line x1="493.50" y1="272.90" x2="493.50" y2="272.44" stroke="#000" stroke-width="1.1" />
<line x1="490.90" y1="272.44" x2="496.10" y2="272.44" stroke="#000" stroke-width="1.1" />
<rect x="489.60" y="272.90" width="7.80" height="9.10" fill="#fff" stroke="#000" stroke-width="1.2"/>
<line x1="506.50" y1="265.62" x2="506.50" y2="257.43" stroke="#000" stroke-width="1.1" />
<line x1="503.90" y1="257.43" x2="509.10" y2="257.43" stroke="#000" stroke-width="1.1" />
<rect x="502.00" y="265.22" width="9.00" height="16.78" fill="#000"/>
<line x1="528.10" y1="208.75" x2="528.10" y2="208.29" stroke="#000" stroke-width="1.1" />
<line x1="525.50" y1="208.29" x2="530.70" y2="208.29" stroke="#000" stroke-width="1.1" />
<rect x="524.20" y="208.75" width="7.80" height="73.25" fill="#fff" stroke="#000" stroke-width="1.2"/>
<line x1="541.10" y1="214.20" x2="541.10" y2="206.47" stroke="#000" stroke-width="1.1" />
<line x1="538.50" y1="206.47" x2="543.70" y2="206.47" stroke="#000" stroke-width="1.1" />
<rect x="536.60" y="213.80" width="9.00" height="68.20" fill="#000"/>
<line x1="413.80" y1="190.50" x2="413.80" y2="282.60" stroke="#000" stroke-width="1.3" />
<line x1="413.20" y1="282.00" x2="552.00" y2="282.00" stroke="#000" stroke-width="1.3" />
<line x1="410.80" y1="282.00" x2="413.80" y2="282.00" stroke="#000" stroke-width="1.1" />
<text x="410.30" y="284.40" font-size="6.8" text-anchor="end" font-weight="normal" fill="#111" >0</text>
<line x1="410.80" y1="263.80" x2="413.80" y2="263.80" stroke="#000" stroke-width="1.1" />
<text x="410.30" y="266.20" font-size="6.8" text-anchor="end" font-weight="normal" fill="#111" >20</text>
<line x1="410.80" y1="245.60" x2="413.80" y2="245.60" stroke="#000" stroke-width="1.1" />
<text x="410.30" y="248.00" font-size="6.8" text-anchor="end" font-weight="normal" fill="#111" >40</text>
<line x1="410.80" y1="227.40" x2="413.80" y2="227.40" stroke="#000" stroke-width="1.1" />
<text x="410.30" y="229.80" font-size="6.8" text-anchor="end" font-weight="normal" fill="#111" >60</text>
<line x1="410.80" y1="209.20" x2="413.80" y2="209.20" stroke="#000" stroke-width="1.1" />
<text x="410.30" y="211.60" font-size="6.8" text-anchor="end" font-weight="normal" fill="#111" >80</text>
<line x1="410.80" y1="191.00" x2="413.80" y2="191.00" stroke="#000" stroke-width="1.1" />
<text x="410.30" y="193.40" font-size="6.8" text-anchor="end" font-weight="normal" fill="#111" >100</text>
<line x1="431.00" y1="282.00" x2="431.00" y2="285.00" stroke="#000" stroke-width="1.1" />
<text x="432.60" y="292.20" font-size="9.5" text-anchor="end" fill="#222" stroke="#222" stroke-width="0.2" transform="rotate(-45 432.60 292.20)">A</text>
<line x1="466.00" y1="282.00" x2="466.00" y2="285.00" stroke="#000" stroke-width="1.1" />
<text x="467.60" y="292.20" font-size="9.5" text-anchor="end" fill="#222" stroke="#222" stroke-width="0.2" transform="rotate(-45 467.60 292.20)">G1</text>
<line x1="500.00" y1="282.00" x2="500.00" y2="285.00" stroke="#000" stroke-width="1.1" />
<text x="501.60" y="292.20" font-size="9.5" text-anchor="end" fill="#222" stroke="#222" stroke-width="0.2" transform="rotate(-45 501.60 292.20)">S</text>
<line x1="534.60" y1="282.00" x2="534.60" y2="285.00" stroke="#000" stroke-width="1.1" />
<text x="536.20" y="292.20" font-size="9.5" text-anchor="end" fill="#222" stroke="#222" stroke-width="0.2" transform="rotate(-45 536.20 292.20)">G2/M</text>
<text x="462.00" y="178.10" font-size="9.3" text-anchor="start" font-weight="normal" fill="#222" stroke="#222" stroke-width="0.15">24 hrs</text>
<text x="394.60" y="235.00" font-size="10" font-weight="bold" text-anchor="middle" fill="#222" transform="rotate(-90 394.60 235.00)">%</text>
<rect x="561.45" y="193.55" width="10.5" height="6" fill="#fff" stroke="#000" stroke-width="1.5"/>
<rect x="560.70" y="204.10" width="12" height="7.5" fill="#000"/>
<text x="577.10" y="199.40" font-size="7.6" text-anchor="start" font-weight="normal" fill="#111" letter-spacing="-0.4" stroke="#111" stroke-width="0.25">WT</text>
<text x="577.30" y="210.40" font-size="7.6" text-anchor="start" font-weight="normal" fill="#111" letter-spacing="-0.2" stroke="#111" stroke-width="0.25">TG</text>
<line x1="426.10" y1="440.70" x2="426.10" y2="440.36" stroke="#000" stroke-width="1.1" />
<line x1="423.50" y1="440.36" x2="428.70" y2="440.36" stroke="#000" stroke-width="1.1" />
<rect x="422.20" y="440.70" width="7.80" height="4.60" fill="#fff" stroke="#000" stroke-width="1.2"/>
<line x1="439.10" y1="437.25" x2="439.10" y2="434.38" stroke="#000" stroke-width="1.1" />
<line x1="436.50" y1="434.38" x2="441.70" y2="434.38" stroke="#000" stroke-width="1.1" />
<rect x="434.60" y="436.85" width="9.00" height="8.45" fill="#000"/>
<line x1="461.10" y1="441.85" x2="461.10" y2="441.62" stroke="#000" stroke-width="1.1" />
<line x1="458.50" y1="441.62" x2="463.70" y2="441.62" stroke="#000" stroke-width="1.1" />
<rect x="457.20" y="441.85" width="7.80" height="3.45" fill="#fff" stroke="#000" stroke-width="1.2"/>
<line x1="474.10" y1="441.28" x2="474.10" y2="441.05" stroke="#000" stroke-width="1.1" />
<line x1="471.50" y1="441.05" x2="476.70" y2="441.05" stroke="#000" stroke-width="1.1" />
<rect x="469.60" y="440.88" width="9.00" height="4.42" fill="#000"/>
<line x1="495.50" y1="428.05" x2="495.50" y2="427.59" stroke="#000" stroke-width="1.1" />
<line x1="492.90" y1="427.59" x2="498.10" y2="427.59" stroke="#000" stroke-width="1.1" />
<rect x="491.60" y="428.05" width="7.80" height="17.25" fill="#fff" stroke="#000" stroke-width="1.2"/>
<line x1="508.50" y1="428.62" x2="508.50" y2="428.40" stroke="#000" stroke-width="1.1" />
<line x1="505.90" y1="428.40" x2="511.10" y2="428.40" stroke="#000" stroke-width="1.1" />
<rect x="504.00" y="428.23" width="9.00" height="17.08" fill="#000"/>
<line x1="530.10" y1="365.38" x2="530.10" y2="364.46" stroke="#000" stroke-width="1.1" />
<line x1="527.50" y1="364.46" x2="532.70" y2="364.46" stroke="#000" stroke-width="1.1" />
<rect x="526.20" y="365.38" width="7.80" height="79.93" fill="#fff" stroke="#000" stroke-width="1.2"/>
<line x1="543.10" y1="368.25" x2="543.10" y2="364.80" stroke="#000" stroke-width="1.1" />
<line x1="540.50" y1="364.80" x2="545.70" y2="364.80" stroke="#000" stroke-width="1.1" />
<rect x="538.60" y="367.85" width="9.00" height="77.45" fill="#000"/>
<line x1="415.90" y1="352.80" x2="415.90" y2="445.90" stroke="#000" stroke-width="1.3" />
<line x1="415.30" y1="445.30" x2="554.00" y2="445.30" stroke="#000" stroke-width="1.3" />
<line x1="412.90" y1="445.30" x2="415.90" y2="445.30" stroke="#000" stroke-width="1.1" />
<text x="412.40" y="447.70" font-size="6.8" text-anchor="end" font-weight="normal" fill="#111" >0</text>
<line x1="412.90" y1="422.30" x2="415.90" y2="422.30" stroke="#000" stroke-width="1.1" />
<text x="412.40" y="424.70" font-size="6.8" text-anchor="end" font-weight="normal" fill="#111" >20</text>
<line x1="412.90" y1="399.30" x2="415.90" y2="399.30" stroke="#000" stroke-width="1.1" />
<text x="412.40" y="401.70" font-size="6.8" text-anchor="end" font-weight="normal" fill="#111" >40</text>
<line x1="412.90" y1="376.30" x2="415.90" y2="376.30" stroke="#000" stroke-width="1.1" />
<text x="412.40" y="378.70" font-size="6.8" text-anchor="end" font-weight="normal" fill="#111" >60</text>
<line x1="412.90" y1="353.30" x2="415.90" y2="353.30" stroke="#000" stroke-width="1.1" />
<text x="412.40" y="355.70" font-size="6.8" text-anchor="end" font-weight="normal" fill="#111" >80</text>
<line x1="432.60" y1="445.30" x2="432.60" y2="448.30" stroke="#000" stroke-width="1.1" />
<text x="434.20" y="455.50" font-size="9.5" text-anchor="end" fill="#222" stroke="#222" stroke-width="0.2" transform="rotate(-45 434.20 455.50)">A</text>
<line x1="467.60" y1="445.30" x2="467.60" y2="448.30" stroke="#000" stroke-width="1.1" />
<text x="469.20" y="455.50" font-size="9.5" text-anchor="end" fill="#222" stroke="#222" stroke-width="0.2" transform="rotate(-45 469.20 455.50)">G1</text>
<line x1="502.00" y1="445.30" x2="502.00" y2="448.30" stroke="#000" stroke-width="1.1" />
<text x="503.60" y="455.50" font-size="9.5" text-anchor="end" fill="#222" stroke="#222" stroke-width="0.2" transform="rotate(-45 503.60 455.50)">S</text>
<line x1="536.60" y1="445.30" x2="536.60" y2="448.30" stroke="#000" stroke-width="1.1" />
<text x="538.20" y="455.50" font-size="9.5" text-anchor="end" fill="#222" stroke="#222" stroke-width="0.2" transform="rotate(-45 538.20 455.50)">G2/M</text>
<text x="463.90" y="341.30" font-size="9.3" text-anchor="start" font-weight="normal" fill="#222" stroke="#222" stroke-width="0.15">48 hrs</text>
<text x="396.00" y="398.00" font-size="10" font-weight="bold" text-anchor="middle" fill="#222" transform="rotate(-90 396.00 398.00)">%</text>
<rect x="562.95" y="356.55" width="10.5" height="6" fill="#fff" stroke="#000" stroke-width="1.5"/>
<rect x="562.20" y="367.10" width="12" height="7.5" fill="#000"/>
<text x="578.60" y="362.40" font-size="7.6" text-anchor="start" font-weight="normal" fill="#111" letter-spacing="-0.4" stroke="#111" stroke-width="0.25">WT</text>
<text x="578.80" y="373.40" font-size="7.6" text-anchor="start" font-weight="normal" fill="#111" letter-spacing="-0.2" stroke="#111" stroke-width="0.25">TG</text>
<line x1="426.10" y1="577.30" x2="426.10" y2="575.77" stroke="#000" stroke-width="1.1" />
<line x1="423.50" y1="575.77" x2="428.70" y2="575.77" stroke="#000" stroke-width="1.1" />
<rect x="422.20" y="577.30" width="7.80" height="12.20" fill="#fff" stroke="#000" stroke-width="1.2"/>
<line x1="439.10" y1="579.13" x2="439.10" y2="578.67" stroke="#000" stroke-width="1.1" />
<line x1="436.50" y1="578.67" x2="441.70" y2="578.67" stroke="#000" stroke-width="1.1" />
<rect x="434.60" y="578.73" width="9.00" height="10.77" fill="#000"/>
<line x1="460.90" y1="577.61" x2="460.90" y2="575.77" stroke="#000" stroke-width="1.1" />
<line x1="458.30" y1="575.77" x2="463.50" y2="575.77" stroke="#000" stroke-width="1.1" />
<rect x="457.00" y="577.61" width="7.80" height="11.89" fill="#fff" stroke="#000" stroke-width="1.2"/>
<line x1="473.90" y1="580.35" x2="473.90" y2="579.89" stroke="#000" stroke-width="1.1" />
<line x1="471.30" y1="579.89" x2="476.50" y2="579.89" stroke="#000" stroke-width="1.1" />
<rect x="469.40" y="579.95" width="9.00" height="9.55" fill="#000"/>
<line x1="495.50" y1="543.75" x2="495.50" y2="540.70" stroke="#000" stroke-width="1.1" />
<line x1="492.90" y1="540.70" x2="498.10" y2="540.70" stroke="#000" stroke-width="1.1" />
<rect x="491.60" y="543.75" width="7.80" height="45.75" fill="#fff" stroke="#000" stroke-width="1.2"/>
<line x1="508.50" y1="549.09" x2="508.50" y2="546.80" stroke="#000" stroke-width="1.1" />
<line x1="505.90" y1="546.80" x2="511.10" y2="546.80" stroke="#000" stroke-width="1.1" />
<rect x="504.00" y="548.69" width="9.00" height="40.81" fill="#000"/>
<line x1="530.10" y1="518.59" x2="530.10" y2="514.01" stroke="#000" stroke-width="1.1" />
<line x1="527.50" y1="514.01" x2="532.70" y2="514.01" stroke="#000" stroke-width="1.1" />
<rect x="526.20" y="518.59" width="7.80" height="70.91" fill="#fff" stroke="#000" stroke-width="1.2"/>
<line x1="543.10" y1="506.08" x2="543.10" y2="504.10" stroke="#000" stroke-width="1.1" />
<line x1="540.50" y1="504.10" x2="545.70" y2="504.10" stroke="#000" stroke-width="1.1" />
<rect x="538.60" y="505.68" width="9.00" height="83.82" fill="#000"/>
<line x1="416.20" y1="497.50" x2="416.20" y2="590.10" stroke="#000" stroke-width="1.3" />
<line x1="415.60" y1="589.50" x2="554.00" y2="589.50" stroke="#000" stroke-width="1.3" />
<line x1="413.20" y1="589.50" x2="416.20" y2="589.50" stroke="#000" stroke-width="1.1" />
<text x="412.70" y="591.90" font-size="6.8" text-anchor="end" font-weight="normal" fill="#111" >0</text>
<line x1="413.20" y1="559.00" x2="416.20" y2="559.00" stroke="#000" stroke-width="1.1" />
<text x="412.70" y="561.40" font-size="6.8" text-anchor="end" font-weight="normal" fill="#111" >20</text>
<line x1="413.20" y1="528.50" x2="416.20" y2="528.50" stroke="#000" stroke-width="1.1" />
<text x="412.70" y="530.90" font-size="6.8" text-anchor="end" font-weight="normal" fill="#111" >40</text>
<line x1="413.20" y1="498.00" x2="416.20" y2="498.00" stroke="#000" stroke-width="1.1" />
<text x="412.70" y="500.40" font-size="6.8" text-anchor="end" font-weight="normal" fill="#111" >60</text>
<line x1="432.60" y1="589.50" x2="432.60" y2="592.50" stroke="#000" stroke-width="1.1" />
<text x="434.20" y="599.70" font-size="9.5" text-anchor="end" fill="#222" stroke="#222" stroke-width="0.2" transform="rotate(-45 434.20 599.70)">A</text>
<line x1="467.40" y1="589.50" x2="467.40" y2="592.50" stroke="#000" stroke-width="1.1" />
<text x="469.00" y="599.70" font-size="9.5" text-anchor="end" fill="#222" stroke="#222" stroke-width="0.2" transform="rotate(-45 469.00 599.70)">G1</text>
<line x1="502.00" y1="589.50" x2="502.00" y2="592.50" stroke="#000" stroke-width="1.1" />
<text x="503.60" y="599.70" font-size="9.5" text-anchor="end" fill="#222" stroke="#222" stroke-width="0.2" transform="rotate(-45 503.60 599.70)">S</text>
<line x1="536.60" y1="589.50" x2="536.60" y2="592.50" stroke="#000" stroke-width="1.1" />
<text x="538.20" y="599.70" font-size="9.5" text-anchor="end" fill="#222" stroke="#222" stroke-width="0.2" transform="rotate(-45 538.20 599.70)">G2/M</text>
<text x="464.30" y="486.00" font-size="9.3" text-anchor="start" font-weight="normal" fill="#222" stroke="#222" stroke-width="0.15">72 hrs</text>
<text x="396.00" y="543.00" font-size="10" font-weight="bold" text-anchor="middle" fill="#222" transform="rotate(-90 396.00 543.00)">%</text>
<rect x="563.45" y="501.35" width="10.5" height="6" fill="#fff" stroke="#000" stroke-width="1.5"/>
<rect x="562.70" y="511.90" width="12" height="7.5" fill="#000"/>
<text x="579.10" y="507.20" font-size="7.6" text-anchor="start" font-weight="normal" fill="#111" letter-spacing="-0.4" stroke="#111" stroke-width="0.25">WT</text>
<text x="579.30" y="518.20" font-size="7.6" text-anchor="start" font-weight="normal" fill="#111" letter-spacing="-0.2" stroke="#111" stroke-width="0.25">TG</text>
<circle cx="541.20" cy="498.30" r="1.35" fill="#111"/>
<circle cx="545.30" cy="498.30" r="1.35" fill="#111"/>
<rect x="656.3" y="115.91" width="52.8" height="36.49" fill="#000"/>
<line x1="682.70" y1="115.91" x2="682.70" y2="105.07" stroke="#000" stroke-width="1.6" />
<line x1="669.80" y1="105.07" x2="695.80" y2="105.07" stroke="#000" stroke-width="1.6" />
<rect x="735.5" y="86.31" width="51.2" height="66.09" fill="#fff" stroke="#000" stroke-width="1.6"/>
<line x1="760.60" y1="86.31" x2="760.60" y2="65.66" stroke="#000" stroke-width="1.6" />
<line x1="747.60" y1="65.66" x2="774.20" y2="65.66" stroke="#000" stroke-width="1.6" />
<line x1="643.30" y1="47.55" x2="643.30" y2="153.10" stroke="#000" stroke-width="1.4" />
<line x1="642.60" y1="152.40" x2="800.00" y2="152.40" stroke="#000" stroke-width="1.4" />
<line x1="640.30" y1="152.40" x2="643.30" y2="152.40" stroke="#000" stroke-width="1.2" />
<text x="639.50" y="155.00" font-size="7.4" text-anchor="end" font-weight="normal" fill="#111" stroke="#111" stroke-width="0.25">0</text>
<line x1="640.30" y1="131.55" x2="643.30" y2="131.55" stroke="#000" stroke-width="1.2" />
<text x="639.50" y="134.15" font-size="7.4" text-anchor="end" font-weight="normal" fill="#111" stroke="#111" stroke-width="0.25">1</text>
<line x1="640.30" y1="110.70" x2="643.30" y2="110.70" stroke="#000" stroke-width="1.2" />
<text x="639.50" y="113.30" font-size="7.4" text-anchor="end" font-weight="normal" fill="#111" stroke="#111" stroke-width="0.25">2</text>
<line x1="640.30" y1="89.85" x2="643.30" y2="89.85" stroke="#000" stroke-width="1.2" />
<text x="639.50" y="92.45" font-size="7.4" text-anchor="end" font-weight="normal" fill="#111" stroke="#111" stroke-width="0.25">3</text>
<line x1="640.30" y1="69.00" x2="643.30" y2="69.00" stroke="#000" stroke-width="1.2" />
<text x="639.50" y="71.60" font-size="7.4" text-anchor="end" font-weight="normal" fill="#111" stroke="#111" stroke-width="0.25">4</text>
<line x1="640.30" y1="48.15" x2="643.30" y2="48.15" stroke="#000" stroke-width="1.2" />
<text x="639.50" y="50.75" font-size="7.4" text-anchor="end" font-weight="normal" fill="#111" stroke="#111" stroke-width="0.25">5</text>
<line x1="682.70" y1="152.40" x2="682.70" y2="155.40" stroke="#000" stroke-width="1.2" />
<text x="684.30" y="163.90" font-size="7.6" font-weight="bold" text-anchor="end" fill="#222" transform="rotate(-45 684.30 163.90)">WT</text>
<line x1="760.60" y1="152.40" x2="760.60" y2="155.40" stroke="#000" stroke-width="1.2" />
<text x="762.20" y="163.90" font-size="7.6" font-weight="bold" text-anchor="end" fill="#222" transform="rotate(-45 762.20 163.90)">TG</text>
<text x="708.60" y="36.00" font-size="9.6" text-anchor="start" font-weight="bold" fill="#222" >p53</text>
<text x="627.5" y="100.2" font-size="9.2" text-anchor="middle" fill="#222" stroke="#222" stroke-width="0.25" transform="rotate(-90 627.5 100.2)">fold change</text>
</svg>
</body></html>
